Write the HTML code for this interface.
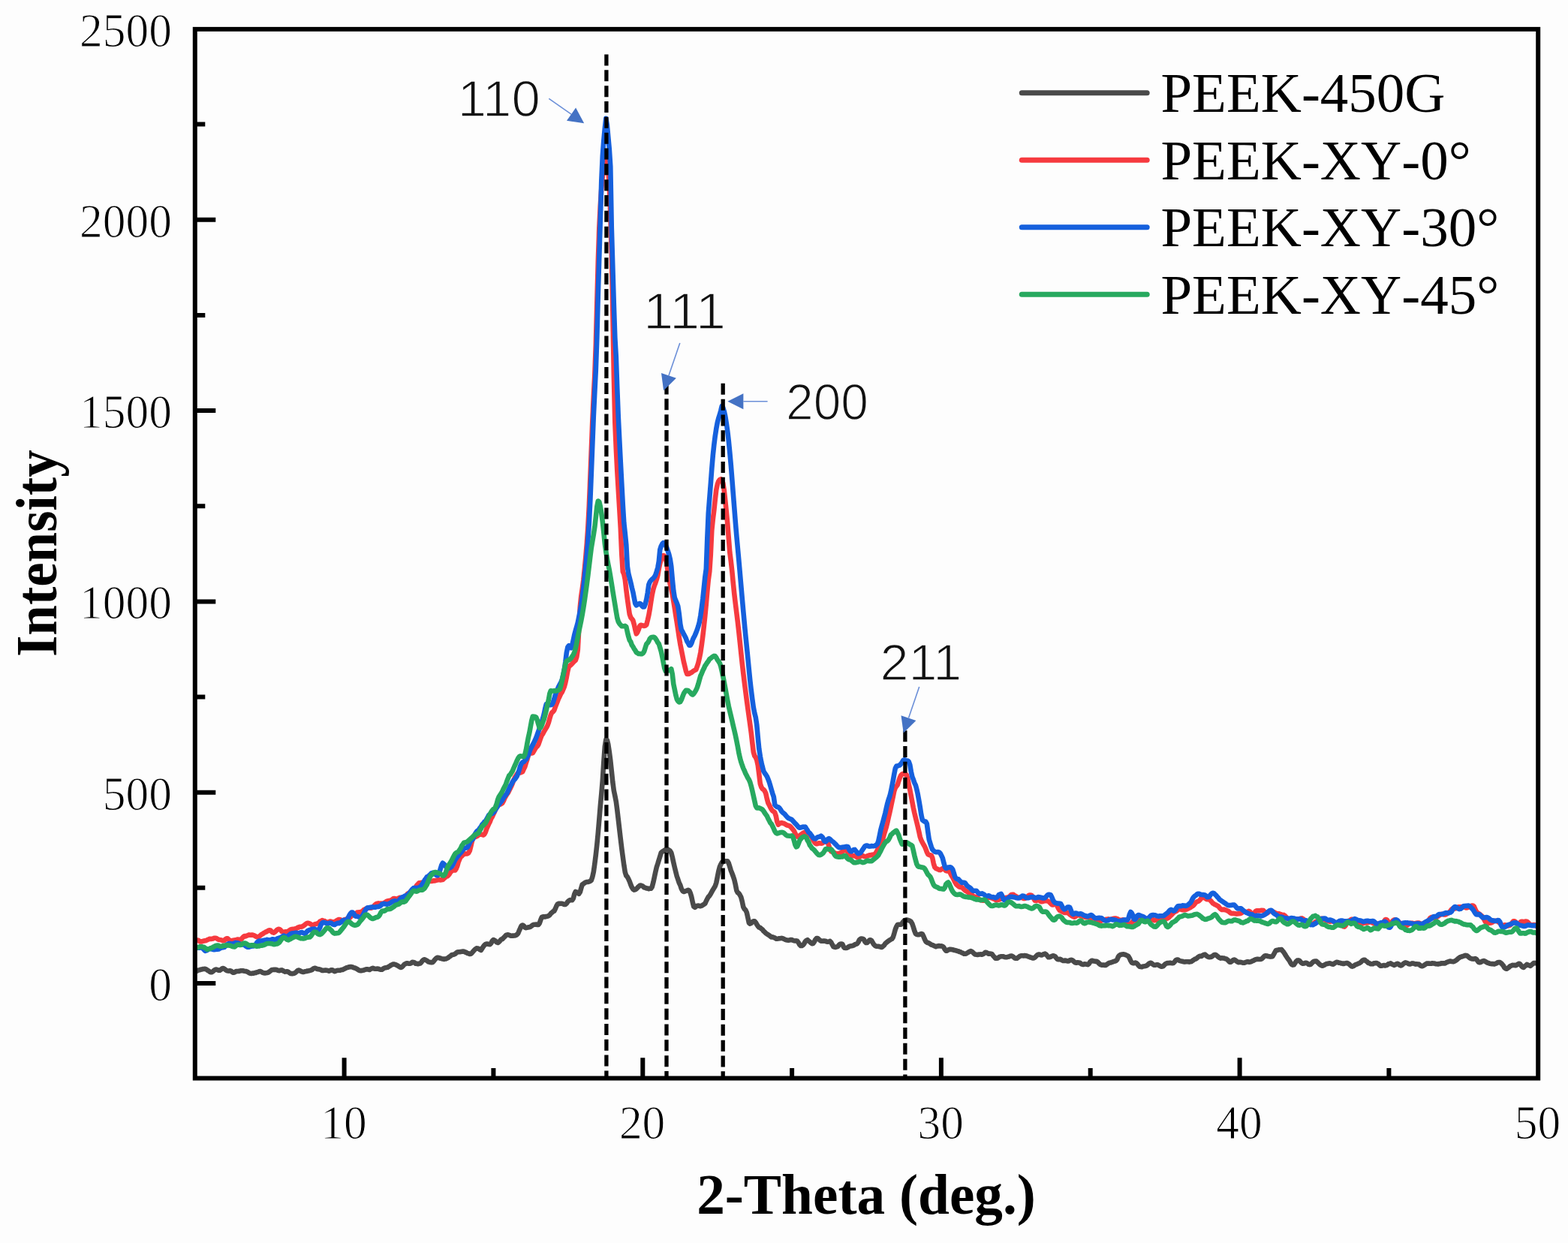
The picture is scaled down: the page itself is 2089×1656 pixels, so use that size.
<!DOCTYPE html>
<html lang="en"><head><meta charset="utf-8"><title>XRD patterns of PEEK</title>
<style>
html,body{margin:0;padding:0;background:#fdfdfd;}
body{width:2089px;height:1656px;overflow:hidden;}
svg{display:block;filter:blur(0.55px);}
.tk{font-family:"Liberation Serif",serif;font-size:64px;fill:#000;stroke:#fdfdfd;stroke-width:1.1px;paint-order:fill stroke;}
.lg{font-family:"Liberation Serif",serif;font-size:75px;fill:#000;font-kerning:none;}
.ax{font-family:"Liberation Serif",serif;font-weight:bold;font-size:75.3px;fill:#000;}
.ay{font-family:"Liberation Serif",serif;font-weight:bold;font-size:78px;fill:#000;}
.an{font-family:"Liberation Sans",sans-serif;font-size:69px;fill:#111;stroke:#fdfdfd;stroke-width:1.6px;paint-order:fill stroke;}
.cv{fill:none;stroke-width:6.6px;stroke-linejoin:round;stroke-linecap:round;}
.ds{stroke:#000;stroke-width:5.3px;stroke-dasharray:15 5.83;fill:none;}
.ar{stroke:#6b8fd8;stroke-width:1.6px;fill:none;}
.ah{fill:#4472C4;}
</style></head><body>
<svg width="2089" height="1656" viewBox="0 0 2089 1656">
<rect x="0" y="0" width="2089" height="1656" fill="#fdfdfd"/>
<clipPath id="cp"><rect x="259.8" y="38.9" width="1789.3999999999999" height="1397.6"/></clipPath>
<g clip-path="url(#cp)">
<path class="cv" stroke="#4a4a4a" d="M259.8,1294.8 L261.3,1294.2 L262.8,1293.4 L264.3,1292.5 L265.8,1292.2 L267.3,1291.8 L268.8,1291.4 L270.3,1291.1 L271.8,1290.9 L273.3,1290.9 L274.8,1291.4 L276.3,1292.5 L277.8,1293.3 L279.3,1294.6 L280.8,1295.2 L282.3,1295.2 L283.8,1294.1 L285.3,1292.8 L286.8,1291.8 L288.3,1291.6 L289.8,1292.1 L291.3,1292.8 L292.8,1292.8 L294.3,1291.8 L295.8,1290.4 L297.3,1290.0 L298.8,1290.7 L300.3,1291.8 L301.8,1293.0 L303.3,1293.4 L304.8,1293.6 L306.3,1293.2 L307.8,1293.6 L309.3,1294.9 L310.8,1295.8 L312.3,1295.5 L313.8,1294.5 L315.3,1294.0 L316.8,1294.0 L318.3,1293.9 L319.8,1293.6 L321.3,1293.3 L322.8,1293.3 L324.3,1293.4 L325.8,1293.7 L327.3,1293.9 L328.8,1294.4 L330.3,1295.1 L331.8,1296.2 L333.3,1296.8 L334.8,1297.0 L336.3,1296.6 L337.8,1296.6 L339.3,1296.1 L340.8,1296.0 L342.3,1295.2 L343.8,1295.0 L345.3,1294.3 L346.8,1294.1 L348.3,1294.7 L349.8,1295.7 L351.3,1296.3 L352.8,1296.4 L354.3,1296.2 L355.8,1296.0 L357.3,1295.6 L358.8,1294.7 L360.3,1293.5 L361.8,1292.3 L363.3,1292.0 L364.8,1291.9 L366.3,1291.9 L367.8,1291.8 L369.3,1292.4 L370.8,1293.0 L372.3,1293.1 L373.8,1292.6 L375.3,1292.4 L376.8,1293.0 L378.3,1294.0 L379.8,1294.6 L381.3,1294.4 L382.8,1294.3 L384.3,1295.0 L385.8,1296.2 L387.3,1297.0 L388.8,1297.1 L390.3,1297.1 L391.8,1296.8 L393.3,1296.1 L394.8,1294.8 L396.3,1293.1 L397.8,1292.6 L399.3,1292.9 L400.8,1294.0 L402.3,1294.6 L403.8,1294.9 L405.3,1294.7 L406.8,1294.2 L408.3,1294.0 L409.8,1293.5 L411.3,1293.4 L412.8,1292.9 L414.3,1292.6 L415.8,1291.9 L417.3,1290.6 L418.8,1289.9 L420.3,1289.9 L421.8,1290.7 L423.3,1291.1 L424.8,1291.2 L426.3,1291.6 L427.8,1292.3 L429.3,1293.0 L430.8,1292.9 L432.3,1292.8 L433.8,1292.5 L435.3,1292.7 L436.8,1293.1 L438.3,1293.6 L439.8,1293.1 L441.3,1292.2 L442.8,1292.3 L444.3,1293.3 L445.8,1294.2 L447.3,1293.7 L448.8,1292.9 L450.3,1292.7 L451.8,1292.7 L453.3,1292.6 L454.8,1292.1 L456.3,1291.9 L457.8,1291.2 L459.3,1290.5 L460.8,1289.8 L462.3,1289.1 L463.8,1288.7 L465.3,1288.3 L466.8,1288.1 L468.3,1288.1 L469.8,1288.5 L471.3,1289.2 L472.8,1289.5 L474.3,1290.3 L475.8,1291.0 L477.3,1292.1 L478.8,1293.0 L480.3,1293.1 L481.8,1293.1 L483.3,1292.7 L484.8,1292.5 L486.3,1291.8 L487.8,1291.3 L489.3,1291.3 L490.8,1291.6 L492.3,1292.0 L493.8,1291.0 L495.3,1290.4 L496.8,1289.8 L498.3,1290.4 L499.8,1290.7 L501.3,1290.7 L502.8,1290.5 L504.3,1290.7 L505.8,1291.4 L507.3,1291.8 L508.8,1291.7 L510.3,1290.7 L511.8,1289.8 L513.3,1289.2 L514.8,1289.1 L516.3,1288.8 L517.8,1287.9 L519.3,1287.0 L520.8,1285.9 L522.3,1285.3 L523.8,1284.6 L525.3,1284.6 L526.8,1285.1 L528.3,1285.8 L529.8,1286.5 L531.3,1287.5 L532.8,1288.4 L534.3,1289.0 L535.8,1288.1 L537.3,1286.5 L538.8,1284.7 L540.3,1284.0 L541.8,1283.3 L543.3,1283.4 L544.8,1283.7 L546.3,1283.7 L547.8,1283.1 L549.3,1281.9 L550.8,1282.0 L552.3,1282.4 L553.8,1283.8 L555.3,1283.8 L556.8,1284.2 L558.3,1283.8 L559.8,1283.5 L561.3,1282.1 L562.8,1279.8 L564.3,1278.7 L565.8,1278.3 L567.3,1279.2 L568.8,1279.8 L570.3,1281.2 L571.8,1281.6 L573.3,1282.1 L574.8,1282.3 L576.3,1282.0 L577.8,1280.6 L579.3,1278.5 L580.8,1276.9 L582.3,1275.8 L583.8,1275.9 L585.3,1276.3 L586.8,1276.7 L588.3,1277.2 L589.8,1277.5 L591.3,1277.9 L592.8,1277.6 L594.3,1277.4 L595.8,1276.6 L597.3,1275.8 L598.8,1274.5 L600.3,1273.6 L601.8,1272.3 L603.3,1271.9 L604.8,1271.6 L606.3,1270.8 L607.8,1269.6 L609.3,1268.6 L610.8,1268.3 L612.3,1268.2 L613.8,1267.9 L615.3,1267.7 L616.8,1267.5 L618.3,1267.8 L619.8,1268.5 L621.3,1269.0 L622.8,1270.0 L624.3,1270.3 L625.8,1271.0 L627.3,1270.7 L628.8,1269.4 L630.3,1267.6 L631.8,1265.8 L633.3,1264.4 L634.8,1263.4 L636.3,1263.5 L637.8,1263.9 L639.3,1265.1 L640.8,1265.9 L642.3,1263.6 L643.8,1261.2 L645.3,1259.2 L646.8,1257.9 L648.3,1257.6 L649.8,1257.6 L651.3,1258.0 L652.8,1258.1 L654.3,1256.7 L655.8,1253.5 L657.3,1252.0 L658.8,1252.7 L660.3,1253.9 L661.8,1255.4 L663.3,1255.9 L664.8,1254.9 L666.3,1253.2 L667.8,1251.5 L669.3,1251.3 L670.8,1249.4 L672.3,1248.1 L673.8,1246.2 L675.3,1245.4 L676.8,1245.2 L678.3,1245.8 L679.8,1246.4 L681.3,1246.7 L682.8,1246.6 L684.3,1246.6 L685.8,1246.4 L687.3,1246.1 L688.8,1245.0 L690.3,1243.4 L691.8,1239.6 L693.3,1236.3 L694.8,1233.2 L696.3,1232.5 L697.8,1233.5 L699.3,1235.6 L700.8,1236.1 L702.3,1235.8 L703.8,1235.4 L705.3,1235.3 L706.8,1234.7 L708.3,1233.5 L709.8,1232.4 L711.3,1231.8 L712.8,1231.7 L714.3,1231.6 L715.8,1231.9 L717.3,1231.9 L718.8,1229.9 L720.3,1225.6 L721.8,1221.9 L723.3,1221.4 L724.8,1221.4 L726.3,1221.5 L727.8,1220.9 L729.3,1220.7 L730.8,1220.1 L732.3,1219.2 L733.8,1217.1 L735.3,1215.8 L736.8,1214.4 L738.3,1213.8 L739.8,1210.7 L741.3,1207.2 L742.8,1204.5 L744.3,1203.9 L745.8,1203.9 L747.3,1203.8 L748.8,1203.8 L750.3,1204.3 L751.8,1205.0 L753.3,1204.9 L754.8,1203.7 L756.3,1201.4 L757.8,1200.0 L759.3,1199.1 L760.8,1199.2 L762.3,1199.3 L763.8,1197.0 L765.3,1191.2 L766.8,1188.0 L768.3,1188.6 L769.8,1189.3 L771.3,1190.8 L772.8,1188.5 L774.3,1183.2 L775.8,1178.3 L777.3,1177.5 L778.8,1176.3 L780.3,1175.4 L781.8,1175.1 L783.3,1174.9 L784.8,1174.6 L786.3,1173.9 L787.8,1172.8 L789.3,1168.2 L790.8,1161.5 L792.3,1151.0 L793.8,1139.0 L795.3,1125.5 L796.8,1109.8 L798.3,1092.0 L799.8,1073.7 L801.3,1057.6 L802.8,1039.8 L804.3,1015.7 L805.8,994.9 L807.3,985.6 L808.8,985.9 L810.3,991.9 L811.8,1001.8 L813.3,1013.3 L814.8,1027.4 L816.3,1041.8 L817.8,1053.1 L819.3,1060.2 L820.8,1067.9 L822.3,1079.2 L823.8,1092.0 L825.3,1105.0 L826.8,1117.9 L828.3,1130.4 L829.8,1141.6 L831.3,1152.6 L832.8,1162.0 L834.3,1166.7 L835.8,1168.2 L837.3,1171.1 L838.8,1174.4 L840.3,1178.6 L841.8,1182.1 L843.3,1184.5 L844.8,1185.6 L846.3,1185.3 L847.8,1184.3 L849.3,1182.7 L850.8,1181.2 L852.3,1179.8 L853.8,1179.6 L855.3,1180.1 L856.8,1181.1 L858.3,1182.4 L859.8,1182.8 L861.3,1183.4 L862.8,1183.6 L864.3,1184.1 L865.8,1183.5 L867.3,1183.8 L868.8,1181.4 L870.3,1175.7 L871.8,1168.8 L873.3,1161.7 L874.8,1155.3 L876.3,1150.8 L877.8,1145.8 L879.3,1141.0 L880.8,1136.0 L882.3,1134.7 L883.8,1133.8 L885.3,1132.7 L886.8,1132.0 L888.3,1131.7 L889.8,1131.8 L891.3,1132.5 L892.8,1133.7 L894.3,1136.2 L895.8,1142.0 L897.3,1149.0 L898.8,1155.4 L900.3,1161.5 L901.8,1167.5 L903.3,1171.7 L904.8,1176.3 L906.3,1179.3 L907.8,1184.0 L909.3,1186.8 L910.8,1188.0 L912.3,1187.5 L913.8,1187.1 L915.3,1186.4 L916.8,1185.9 L918.3,1186.5 L919.8,1189.8 L921.3,1195.0 L922.8,1202.1 L924.3,1207.8 L925.8,1208.8 L927.3,1207.6 L928.8,1206.7 L930.3,1206.6 L931.8,1206.9 L933.3,1207.2 L934.8,1206.7 L936.3,1205.7 L937.8,1204.8 L939.3,1203.8 L940.8,1200.5 L942.3,1197.6 L943.8,1194.8 L945.3,1193.3 L946.8,1190.9 L948.3,1188.2 L949.8,1185.4 L951.3,1183.0 L952.8,1180.6 L954.3,1176.0 L955.8,1168.5 L957.3,1160.8 L958.8,1155.1 L960.3,1151.6 L961.8,1149.0 L963.3,1147.6 L964.8,1147.6 L966.3,1147.2 L967.8,1147.3 L969.3,1147.4 L970.8,1150.0 L972.3,1154.7 L973.8,1159.8 L975.3,1163.5 L976.8,1167.5 L978.3,1172.1 L979.8,1178.5 L981.3,1186.2 L982.8,1189.2 L984.3,1190.1 L985.8,1192.4 L987.3,1195.3 L988.8,1201.1 L990.3,1208.4 L991.8,1211.0 L993.3,1212.4 L994.8,1215.6 L996.3,1222.2 L997.8,1229.4 L999.3,1230.7 L1000.8,1229.9 L1002.3,1228.2 L1003.8,1227.4 L1005.3,1227.3 L1006.8,1228.9 L1008.3,1231.6 L1009.8,1233.8 L1011.3,1235.6 L1012.8,1235.9 L1014.3,1237.3 L1015.8,1238.4 L1017.3,1240.5 L1018.8,1241.7 L1020.3,1243.3 L1021.8,1244.3 L1023.3,1245.2 L1024.8,1246.2 L1026.3,1247.4 L1027.8,1248.4 L1029.3,1248.4 L1030.8,1248.9 L1032.3,1249.6 L1033.8,1250.6 L1035.3,1250.7 L1036.8,1250.5 L1038.3,1250.2 L1039.8,1250.1 L1041.3,1249.9 L1042.8,1250.3 L1044.3,1250.9 L1045.8,1251.7 L1047.3,1252.3 L1048.8,1252.6 L1050.3,1252.8 L1051.8,1252.4 L1053.3,1252.1 L1054.8,1252.0 L1056.3,1252.7 L1057.8,1253.3 L1059.3,1253.5 L1060.8,1253.4 L1062.3,1253.8 L1063.8,1255.9 L1065.3,1258.6 L1066.8,1260.0 L1068.3,1260.0 L1069.8,1259.0 L1071.3,1257.3 L1072.8,1254.3 L1074.3,1252.9 L1075.8,1252.2 L1077.3,1253.6 L1078.8,1254.7 L1080.3,1256.1 L1081.8,1257.2 L1083.3,1257.0 L1084.8,1254.8 L1086.3,1251.8 L1087.8,1250.0 L1089.3,1250.0 L1090.8,1251.3 L1092.3,1252.7 L1093.8,1253.6 L1095.3,1253.7 L1096.8,1253.6 L1098.3,1253.6 L1099.8,1253.7 L1101.3,1254.5 L1102.8,1254.7 L1104.3,1254.5 L1105.8,1253.9 L1107.3,1255.5 L1108.8,1258.4 L1110.3,1261.1 L1111.8,1261.7 L1113.3,1261.9 L1114.8,1261.4 L1116.3,1261.0 L1117.8,1258.8 L1119.3,1257.7 L1120.8,1257.5 L1122.3,1257.7 L1123.8,1261.3 L1125.3,1262.8 L1126.8,1263.0 L1128.3,1262.7 L1129.8,1262.0 L1131.3,1260.9 L1132.8,1260.5 L1134.3,1260.2 L1135.8,1260.0 L1137.3,1259.4 L1138.8,1258.4 L1140.3,1257.8 L1141.8,1257.3 L1143.3,1255.5 L1144.8,1252.3 L1146.3,1251.0 L1147.8,1250.5 L1149.3,1250.7 L1150.8,1251.6 L1152.3,1254.6 L1153.8,1256.0 L1155.3,1256.0 L1156.8,1254.4 L1158.3,1252.6 L1159.8,1252.3 L1161.3,1253.3 L1162.8,1256.0 L1164.3,1258.4 L1165.8,1259.8 L1167.3,1260.7 L1168.8,1260.8 L1170.3,1260.8 L1171.8,1261.2 L1173.3,1261.7 L1174.8,1262.0 L1176.3,1260.7 L1177.8,1259.5 L1179.3,1257.2 L1180.8,1255.8 L1182.3,1254.6 L1183.8,1253.5 L1185.3,1252.5 L1186.8,1251.7 L1188.3,1250.9 L1189.8,1248.6 L1191.3,1243.7 L1192.8,1238.3 L1194.3,1234.5 L1195.8,1232.1 L1197.3,1231.8 L1198.8,1231.8 L1200.3,1231.8 L1201.8,1230.1 L1203.3,1228.1 L1204.8,1226.3 L1206.3,1225.7 L1207.8,1225.4 L1209.3,1225.7 L1210.8,1226.3 L1212.3,1226.9 L1213.8,1228.0 L1215.3,1230.7 L1216.8,1235.0 L1218.3,1240.0 L1219.8,1243.9 L1221.3,1244.8 L1222.8,1245.2 L1224.3,1245.2 L1225.8,1244.6 L1227.3,1244.0 L1228.8,1244.4 L1230.3,1247.2 L1231.8,1251.0 L1233.3,1254.2 L1234.8,1255.5 L1236.3,1256.0 L1237.8,1256.6 L1239.3,1257.7 L1240.8,1258.6 L1242.3,1259.1 L1243.8,1259.8 L1245.3,1260.5 L1246.8,1261.1 L1248.3,1260.5 L1249.8,1260.4 L1251.3,1260.1 L1252.8,1260.5 L1254.3,1260.4 L1255.8,1260.9 L1257.3,1262.1 L1258.8,1264.8 L1260.3,1266.6 L1261.8,1266.6 L1263.3,1265.6 L1264.8,1264.9 L1266.3,1264.8 L1267.8,1265.0 L1269.3,1265.3 L1270.8,1265.7 L1272.3,1266.1 L1273.8,1266.4 L1275.3,1266.9 L1276.8,1267.2 L1278.3,1268.1 L1279.8,1268.3 L1281.3,1269.4 L1282.8,1269.8 L1284.3,1270.8 L1285.8,1270.7 L1287.3,1270.4 L1288.8,1269.5 L1290.3,1268.6 L1291.8,1267.7 L1293.3,1267.1 L1294.8,1267.7 L1296.3,1269.0 L1297.8,1270.5 L1299.3,1271.6 L1300.8,1271.8 L1302.3,1272.0 L1303.8,1271.6 L1305.3,1271.5 L1306.8,1271.4 L1308.3,1271.7 L1309.8,1271.2 L1311.3,1270.1 L1312.8,1268.7 L1314.3,1268.9 L1315.8,1269.9 L1317.3,1270.8 L1318.8,1270.5 L1320.3,1270.8 L1321.8,1271.2 L1323.3,1273.5 L1324.8,1275.0 L1326.3,1276.7 L1327.8,1276.8 L1329.3,1276.5 L1330.8,1275.3 L1332.3,1274.6 L1333.8,1274.2 L1335.3,1274.3 L1336.8,1274.4 L1338.3,1275.0 L1339.8,1275.2 L1341.3,1275.3 L1342.8,1274.7 L1344.3,1274.4 L1345.8,1273.7 L1347.3,1273.5 L1348.8,1273.9 L1350.3,1274.9 L1351.8,1276.3 L1353.3,1276.8 L1354.8,1276.8 L1356.3,1275.7 L1357.8,1274.6 L1359.3,1273.6 L1360.8,1273.2 L1362.3,1273.2 L1363.8,1273.4 L1365.3,1273.1 L1366.8,1273.4 L1368.3,1273.5 L1369.8,1274.4 L1371.3,1274.8 L1372.8,1275.5 L1374.3,1275.8 L1375.8,1276.5 L1377.3,1276.4 L1378.8,1275.6 L1380.3,1274.0 L1381.8,1272.4 L1383.3,1271.6 L1384.8,1271.6 L1386.3,1272.3 L1387.8,1272.4 L1389.3,1271.8 L1390.8,1271.1 L1392.3,1270.6 L1393.8,1271.7 L1395.3,1273.5 L1396.8,1275.3 L1398.3,1275.3 L1399.8,1274.7 L1401.3,1273.8 L1402.8,1273.3 L1404.3,1273.5 L1405.8,1274.4 L1407.3,1276.3 L1408.8,1277.8 L1410.3,1278.3 L1411.8,1277.8 L1413.3,1278.2 L1414.8,1279.3 L1416.3,1279.9 L1417.8,1280.0 L1419.3,1279.5 L1420.8,1280.1 L1422.3,1280.4 L1423.8,1280.5 L1425.3,1279.2 L1426.8,1278.9 L1428.3,1279.0 L1429.8,1280.2 L1431.3,1281.7 L1432.8,1282.4 L1434.3,1282.7 L1435.8,1282.2 L1437.3,1282.4 L1438.8,1282.7 L1440.3,1284.1 L1441.8,1284.7 L1443.3,1285.0 L1444.8,1284.3 L1446.3,1284.5 L1447.8,1284.8 L1449.3,1285.1 L1450.8,1283.9 L1452.3,1281.5 L1453.8,1280.2 L1455.3,1279.7 L1456.8,1280.4 L1458.3,1280.6 L1459.8,1280.9 L1461.3,1280.9 L1462.8,1282.0 L1464.3,1283.7 L1465.8,1284.9 L1467.3,1285.6 L1468.8,1285.6 L1470.3,1285.6 L1471.8,1285.9 L1473.3,1285.9 L1474.8,1284.7 L1476.3,1283.7 L1477.8,1282.8 L1479.3,1282.6 L1480.8,1282.0 L1482.3,1281.6 L1483.8,1280.9 L1485.3,1280.6 L1486.8,1280.0 L1488.3,1278.4 L1489.8,1274.8 L1491.3,1272.8 L1492.8,1272.0 L1494.3,1271.6 L1495.8,1271.4 L1497.3,1271.4 L1498.8,1271.7 L1500.3,1272.4 L1501.8,1273.2 L1503.3,1274.0 L1504.8,1276.4 L1506.3,1279.8 L1507.8,1282.4 L1509.3,1283.1 L1510.8,1283.2 L1512.3,1282.6 L1513.8,1282.9 L1515.3,1284.2 L1516.8,1286.2 L1518.3,1287.8 L1519.8,1288.0 L1521.3,1288.1 L1522.8,1287.5 L1524.3,1287.3 L1525.8,1287.0 L1527.3,1286.6 L1528.8,1285.7 L1530.3,1284.1 L1531.8,1283.2 L1533.3,1282.8 L1534.8,1283.8 L1536.3,1285.0 L1537.8,1285.8 L1539.3,1285.8 L1540.8,1285.2 L1542.3,1285.3 L1543.8,1286.0 L1545.3,1286.9 L1546.8,1287.7 L1548.3,1287.6 L1549.8,1287.3 L1551.3,1285.4 L1552.8,1284.1 L1554.3,1283.3 L1555.8,1283.1 L1557.3,1283.0 L1558.8,1282.7 L1560.3,1283.0 L1561.8,1283.2 L1563.3,1283.0 L1564.8,1281.4 L1566.3,1279.4 L1567.8,1278.5 L1569.3,1278.6 L1570.8,1279.6 L1572.3,1280.1 L1573.8,1280.5 L1575.3,1280.8 L1576.8,1281.2 L1578.3,1281.5 L1579.8,1281.2 L1581.3,1281.3 L1582.8,1281.3 L1584.3,1281.6 L1585.8,1281.3 L1587.3,1281.0 L1588.8,1279.8 L1590.3,1278.9 L1591.8,1277.8 L1593.3,1277.5 L1594.8,1276.3 L1596.3,1275.0 L1597.8,1274.1 L1599.3,1273.8 L1600.8,1273.9 L1602.3,1272.7 L1603.8,1272.0 L1605.3,1271.6 L1606.8,1272.9 L1608.3,1274.1 L1609.8,1275.0 L1611.3,1275.1 L1612.8,1275.0 L1614.3,1274.5 L1615.8,1273.5 L1617.3,1272.2 L1618.8,1271.9 L1620.3,1272.4 L1621.8,1273.7 L1623.3,1275.2 L1624.8,1276.0 L1626.3,1276.6 L1627.8,1276.3 L1629.3,1276.5 L1630.8,1276.6 L1632.3,1277.2 L1633.8,1277.4 L1635.3,1278.7 L1636.8,1280.2 L1638.3,1281.8 L1639.8,1281.7 L1641.3,1280.5 L1642.8,1279.1 L1644.3,1278.5 L1645.8,1279.2 L1647.3,1280.6 L1648.8,1281.6 L1650.3,1282.1 L1651.8,1281.8 L1653.3,1282.0 L1654.8,1282.4 L1656.3,1282.8 L1657.8,1282.8 L1659.3,1282.1 L1660.8,1281.5 L1662.3,1281.2 L1663.8,1281.7 L1665.3,1281.6 L1666.8,1281.3 L1668.3,1280.3 L1669.8,1279.8 L1671.3,1278.9 L1672.8,1278.2 L1674.3,1277.9 L1675.8,1277.9 L1677.3,1278.0 L1678.8,1278.0 L1680.3,1277.7 L1681.8,1276.7 L1683.3,1275.2 L1684.8,1273.7 L1686.3,1273.2 L1687.8,1273.5 L1689.3,1274.0 L1690.8,1274.3 L1692.3,1274.6 L1693.8,1274.4 L1695.3,1274.2 L1696.8,1271.8 L1698.3,1269.0 L1699.8,1266.3 L1701.3,1265.7 L1702.8,1265.6 L1704.3,1265.3 L1705.8,1265.3 L1707.3,1265.0 L1708.8,1266.9 L1710.3,1268.7 L1711.8,1271.0 L1713.3,1273.5 L1714.8,1275.8 L1716.3,1277.9 L1717.8,1279.8 L1719.3,1282.6 L1720.8,1284.8 L1722.3,1285.6 L1723.8,1285.3 L1725.3,1283.1 L1726.8,1281.0 L1728.3,1279.6 L1729.8,1279.4 L1731.3,1279.9 L1732.8,1281.7 L1734.3,1283.0 L1735.8,1283.8 L1737.3,1283.6 L1738.8,1282.8 L1740.3,1282.7 L1741.8,1283.4 L1743.3,1284.8 L1744.8,1285.1 L1746.3,1284.7 L1747.8,1283.1 L1749.3,1281.6 L1750.8,1280.7 L1752.3,1280.5 L1753.8,1280.6 L1755.3,1282.0 L1756.8,1283.4 L1758.3,1285.0 L1759.8,1285.8 L1761.3,1286.7 L1762.8,1286.4 L1764.3,1285.8 L1765.8,1284.7 L1767.3,1284.1 L1768.8,1283.9 L1770.3,1283.5 L1771.8,1283.4 L1773.3,1283.9 L1774.8,1284.5 L1776.3,1284.6 L1777.8,1283.5 L1779.3,1282.5 L1780.8,1281.9 L1782.3,1282.0 L1783.8,1282.7 L1785.3,1282.8 L1786.8,1283.4 L1788.3,1283.5 L1789.8,1284.0 L1791.3,1283.5 L1792.8,1283.3 L1794.3,1283.0 L1795.8,1283.5 L1797.3,1284.4 L1798.8,1285.8 L1800.3,1287.2 L1801.8,1287.6 L1803.3,1286.9 L1804.8,1285.9 L1806.3,1285.0 L1807.8,1284.6 L1809.3,1283.8 L1810.8,1283.4 L1812.3,1282.3 L1813.8,1281.1 L1815.3,1279.5 L1816.8,1278.9 L1818.3,1278.9 L1819.8,1280.4 L1821.3,1281.2 L1822.8,1283.0 L1824.3,1283.1 L1825.8,1284.2 L1827.3,1284.2 L1828.8,1284.3 L1830.3,1283.4 L1831.8,1283.3 L1833.3,1283.0 L1834.8,1283.3 L1836.3,1284.1 L1837.8,1285.7 L1839.3,1286.7 L1840.8,1286.8 L1842.3,1286.2 L1843.8,1286.1 L1845.3,1286.4 L1846.8,1286.1 L1848.3,1285.6 L1849.8,1284.3 L1851.3,1283.9 L1852.8,1283.4 L1854.3,1284.4 L1855.8,1285.1 L1857.3,1285.9 L1858.8,1285.3 L1860.3,1284.4 L1861.8,1283.8 L1863.3,1284.5 L1864.8,1285.9 L1866.3,1286.4 L1867.8,1285.9 L1869.3,1284.2 L1870.8,1283.2 L1872.3,1282.4 L1873.8,1282.7 L1875.3,1283.3 L1876.8,1284.3 L1878.3,1284.5 L1879.8,1284.1 L1881.3,1283.4 L1882.8,1283.6 L1884.3,1283.9 L1885.8,1284.6 L1887.3,1284.3 L1888.8,1284.5 L1890.3,1284.6 L1891.8,1285.9 L1893.3,1286.8 L1894.8,1287.2 L1896.3,1286.7 L1897.8,1285.6 L1899.3,1284.7 L1900.8,1283.6 L1902.3,1283.5 L1903.8,1283.6 L1905.3,1283.7 L1906.8,1283.7 L1908.3,1283.3 L1909.8,1283.5 L1911.3,1283.6 L1912.8,1284.2 L1914.3,1284.2 L1915.8,1284.5 L1917.3,1284.0 L1918.8,1284.0 L1920.3,1283.2 L1921.8,1283.4 L1923.3,1283.4 L1924.8,1283.5 L1926.3,1282.8 L1927.8,1281.8 L1929.3,1281.3 L1930.8,1280.8 L1932.3,1280.6 L1933.8,1280.9 L1935.3,1281.1 L1936.8,1281.2 L1938.3,1280.4 L1939.8,1279.5 L1941.3,1278.3 L1942.8,1276.9 L1944.3,1275.8 L1945.8,1274.9 L1947.3,1274.6 L1948.8,1274.0 L1950.3,1273.6 L1951.8,1272.9 L1953.3,1273.0 L1954.8,1273.5 L1956.3,1274.8 L1957.8,1276.1 L1959.3,1276.9 L1960.8,1277.4 L1962.3,1277.6 L1963.8,1277.5 L1965.3,1277.1 L1966.8,1277.7 L1968.3,1279.8 L1969.8,1281.8 L1971.3,1282.2 L1972.8,1281.8 L1974.3,1280.9 L1975.8,1280.3 L1977.3,1280.1 L1978.8,1280.9 L1980.3,1281.8 L1981.8,1282.8 L1983.3,1283.1 L1984.8,1283.7 L1986.3,1283.9 L1987.8,1284.3 L1989.3,1284.1 L1990.8,1284.5 L1992.3,1283.8 L1993.8,1283.3 L1995.3,1282.2 L1996.8,1282.0 L1998.3,1282.1 L1999.8,1283.2 L2001.3,1284.7 L2002.8,1286.4 L2004.3,1289.2 L2005.8,1290.3 L2007.3,1290.8 L2008.8,1289.8 L2010.3,1288.8 L2011.8,1287.1 L2013.3,1286.6 L2014.8,1285.8 L2016.3,1286.0 L2017.8,1285.9 L2019.3,1286.2 L2020.8,1285.5 L2022.3,1284.5 L2023.8,1283.8 L2025.3,1284.5 L2026.8,1286.7 L2028.3,1288.4 L2029.8,1288.9 L2031.3,1287.3 L2032.8,1286.4 L2034.3,1284.9 L2035.8,1285.7 L2037.3,1286.1 L2038.8,1286.9 L2040.3,1285.7 L2041.8,1284.3 L2043.3,1283.1 L2044.8,1282.9 L2046.3,1283.3 L2047.8,1283.5"/>
<path class="cv" stroke="#F63A3F" d="M259.8,1254.3 L261.3,1252.9 L262.8,1252.5 L264.3,1252.7 L265.8,1254.0 L267.3,1254.5 L268.8,1254.4 L270.3,1253.9 L271.8,1253.5 L273.3,1253.2 L274.8,1252.9 L276.3,1252.1 L277.8,1251.5 L279.3,1250.8 L280.8,1251.0 L282.3,1250.7 L283.8,1250.5 L285.3,1249.8 L286.8,1249.8 L288.3,1250.0 L289.8,1251.0 L291.3,1251.7 L292.8,1252.0 L294.3,1252.2 L295.8,1252.8 L297.3,1253.3 L298.8,1253.0 L300.3,1251.3 L301.8,1250.4 L303.3,1250.4 L304.8,1251.9 L306.3,1252.8 L307.8,1253.4 L309.3,1253.2 L310.8,1252.8 L312.3,1252.6 L313.8,1252.2 L315.3,1252.0 L316.8,1251.5 L318.3,1251.8 L319.8,1251.8 L321.3,1251.5 L322.8,1249.6 L324.3,1248.1 L325.8,1247.1 L327.3,1247.4 L328.8,1246.6 L330.3,1246.1 L331.8,1245.4 L333.3,1245.7 L334.8,1245.6 L336.3,1245.6 L337.8,1245.9 L339.3,1246.7 L340.8,1247.6 L342.3,1248.3 L343.8,1248.4 L345.3,1247.5 L346.8,1246.4 L348.3,1245.0 L349.8,1244.3 L351.3,1243.1 L352.8,1242.3 L354.3,1241.5 L355.8,1241.0 L357.3,1239.8 L358.8,1239.2 L360.3,1239.4 L361.8,1241.2 L363.3,1242.2 L364.8,1242.7 L366.3,1241.6 L367.8,1240.1 L369.3,1238.6 L370.8,1237.8 L372.3,1238.0 L373.8,1239.0 L375.3,1240.8 L376.8,1241.7 L378.3,1241.8 L379.8,1241.4 L381.3,1241.3 L382.8,1241.1 L384.3,1240.4 L385.8,1239.3 L387.3,1238.4 L388.8,1238.0 L390.3,1237.9 L391.8,1237.9 L393.3,1237.3 L394.8,1237.0 L396.3,1236.0 L397.8,1235.5 L399.3,1234.8 L400.8,1234.7 L402.3,1234.4 L403.8,1233.7 L405.3,1232.7 L406.8,1231.4 L408.3,1230.3 L409.8,1229.7 L411.3,1230.0 L412.8,1230.6 L414.3,1231.6 L415.8,1232.1 L417.3,1232.2 L418.8,1231.7 L420.3,1231.0 L421.8,1230.9 L423.3,1230.1 L424.8,1229.6 L426.3,1227.6 L427.8,1227.0 L429.3,1226.1 L430.8,1226.6 L432.3,1227.0 L433.8,1227.8 L435.3,1228.6 L436.8,1228.7 L438.3,1228.3 L439.8,1227.6 L441.3,1227.8 L442.8,1228.3 L444.3,1228.6 L445.8,1228.2 L447.3,1227.3 L448.8,1226.2 L450.3,1225.5 L451.8,1225.0 L453.3,1225.2 L454.8,1225.9 L456.3,1226.2 L457.8,1226.1 L459.3,1225.0 L460.8,1224.8 L462.3,1224.4 L463.8,1224.7 L465.3,1223.3 L466.8,1221.9 L468.3,1220.0 L469.8,1219.1 L471.3,1218.6 L472.8,1217.7 L474.3,1217.0 L475.8,1215.6 L477.3,1215.6 L478.8,1215.2 L480.3,1215.6 L481.8,1214.4 L483.3,1213.7 L484.8,1212.0 L486.3,1211.4 L487.8,1210.4 L489.3,1210.1 L490.8,1209.8 L492.3,1209.7 L493.8,1209.7 L495.3,1209.4 L496.8,1208.5 L498.3,1206.9 L499.8,1205.4 L501.3,1204.2 L502.8,1203.8 L504.3,1203.4 L505.8,1203.7 L507.3,1203.6 L508.8,1203.8 L510.3,1203.6 L511.8,1202.9 L513.3,1201.9 L514.8,1200.9 L516.3,1200.4 L517.8,1200.1 L519.3,1199.9 L520.8,1199.4 L522.3,1198.5 L523.8,1197.3 L525.3,1197.0 L526.8,1197.2 L528.3,1197.8 L529.8,1197.3 L531.3,1196.4 L532.8,1195.7 L534.3,1196.0 L535.8,1196.5 L537.3,1196.8 L538.8,1196.2 L540.3,1194.3 L541.8,1192.3 L543.3,1190.4 L544.8,1189.7 L546.3,1188.6 L547.8,1187.1 L549.3,1185.8 L550.8,1185.1 L552.3,1183.9 L553.8,1182.0 L555.3,1179.3 L556.8,1177.9 L558.3,1176.3 L559.8,1176.3 L561.3,1175.7 L562.8,1176.0 L564.3,1175.7 L565.8,1175.4 L567.3,1174.0 L568.8,1172.6 L570.3,1172.2 L571.8,1173.0 L573.3,1174.0 L574.8,1174.0 L576.3,1173.7 L577.8,1173.3 L579.3,1173.4 L580.8,1172.9 L582.3,1172.6 L583.8,1172.3 L585.3,1172.3 L586.8,1172.4 L588.3,1172.1 L589.8,1172.0 L591.3,1170.6 L592.8,1169.3 L594.3,1167.8 L595.8,1167.6 L597.3,1166.3 L598.8,1164.4 L600.3,1161.8 L601.8,1160.3 L603.3,1159.3 L604.8,1159.4 L606.3,1159.5 L607.8,1157.4 L609.3,1153.5 L610.8,1148.1 L612.3,1144.6 L613.8,1141.7 L615.3,1140.6 L616.8,1138.9 L618.3,1138.1 L619.8,1137.4 L621.3,1137.5 L622.8,1137.2 L624.3,1136.2 L625.8,1133.5 L627.3,1127.4 L628.8,1121.0 L630.3,1116.0 L631.8,1114.5 L633.3,1115.0 L634.8,1114.4 L636.3,1113.6 L637.8,1112.3 L639.3,1111.6 L640.8,1111.5 L642.3,1111.9 L643.8,1112.5 L645.3,1111.5 L646.8,1108.7 L648.3,1104.2 L649.8,1100.9 L651.3,1097.4 L652.8,1094.6 L654.3,1090.6 L655.8,1088.2 L657.3,1084.8 L658.8,1081.8 L660.3,1078.2 L661.8,1075.4 L663.3,1073.4 L664.8,1072.2 L666.3,1071.6 L667.8,1071.0 L669.3,1069.8 L670.8,1067.2 L672.3,1063.5 L673.8,1060.8 L675.3,1058.3 L676.8,1056.3 L678.3,1053.2 L679.8,1050.3 L681.3,1047.1 L682.8,1043.6 L684.3,1039.4 L685.8,1036.2 L687.3,1033.5 L688.8,1031.2 L690.3,1029.6 L691.8,1028.6 L693.3,1029.4 L694.8,1028.8 L696.3,1028.0 L697.8,1024.4 L699.3,1021.4 L700.8,1016.6 L702.3,1012.0 L703.8,1006.6 L705.3,1003.4 L706.8,1003.0 L708.3,1003.5 L709.8,1003.1 L711.3,1000.5 L712.8,997.8 L714.3,995.6 L715.8,994.3 L717.3,991.9 L718.8,987.7 L720.3,983.3 L721.8,979.5 L723.3,977.5 L724.8,974.6 L726.3,972.1 L727.8,969.6 L729.3,966.9 L730.8,962.9 L732.3,957.4 L733.8,952.4 L735.3,949.3 L736.8,948.1 L738.3,946.2 L739.8,941.9 L741.3,938.0 L742.8,934.2 L744.3,930.4 L745.8,927.5 L747.3,924.2 L748.8,922.1 L750.3,918.4 L751.8,914.9 L753.3,909.3 L754.8,902.2 L756.3,894.2 L757.8,888.0 L759.3,886.8 L760.8,885.6 L762.3,884.2 L763.8,882.4 L765.3,880.8 L766.8,879.6 L768.3,875.2 L769.8,865.7 L771.3,837.4 L772.8,808.5 L774.3,794.1 L775.8,784.0 L777.3,772.9 L778.8,758.3 L780.3,742.4 L781.8,724.6 L783.3,703.0 L784.8,674.4 L786.3,638.6 L787.8,599.8 L789.3,561.5 L790.8,528.7 L792.3,499.9 L793.8,460.0 L795.3,403.8 L796.8,348.5 L798.3,304.0 L799.8,273.9 L801.3,251.1 L802.8,235.2 L804.3,223.3 L805.8,216.4 L807.3,212.5 L808.8,215.3 L810.3,226.4 L811.8,248.1 L813.3,285.3 L814.8,338.9 L816.3,411.9 L817.8,499.4 L819.3,562.3 L820.8,597.7 L822.3,627.5 L823.8,653.2 L825.3,678.4 L826.8,704.1 L828.3,738.7 L829.8,761.7 L831.3,765.0 L832.8,772.4 L834.3,785.6 L835.8,797.5 L837.3,808.2 L838.8,818.4 L840.3,822.7 L841.8,824.4 L843.3,826.5 L844.8,831.9 L846.3,838.6 L847.8,844.4 L849.3,842.3 L850.8,838.8 L852.3,834.2 L853.8,832.7 L855.3,833.1 L856.8,833.6 L858.3,833.9 L859.8,833.5 L861.3,832.2 L862.8,826.3 L864.3,819.8 L865.8,811.4 L867.3,801.6 L868.8,792.3 L870.3,785.3 L871.8,780.4 L873.3,776.5 L874.8,772.0 L876.3,766.6 L877.8,757.6 L879.3,750.3 L880.8,745.5 L882.3,741.7 L883.8,740.1 L885.3,740.8 L886.8,743.9 L888.3,750.4 L889.8,762.0 L891.3,771.4 L892.8,778.3 L894.3,784.7 L895.8,792.0 L897.3,800.9 L898.8,810.1 L900.3,819.9 L901.8,829.3 L903.3,839.0 L904.8,849.2 L906.3,858.3 L907.8,865.9 L909.3,873.5 L910.8,881.1 L912.3,887.3 L913.8,893.6 L915.3,898.0 L916.8,897.9 L918.3,897.7 L919.8,896.5 L921.3,896.0 L922.8,894.7 L924.3,893.6 L925.8,892.8 L927.3,892.0 L928.8,887.9 L930.3,883.2 L931.8,876.8 L933.3,869.3 L934.8,859.2 L936.3,847.7 L937.8,834.7 L939.3,820.6 L940.8,804.9 L942.3,787.6 L943.8,772.2 L945.3,761.4 L946.8,738.9 L948.3,706.6 L949.8,691.9 L951.3,679.8 L952.8,665.4 L954.3,652.4 L955.8,645.4 L957.3,641.2 L958.8,639.1 L960.3,638.3 L961.8,640.0 L963.3,643.7 L964.8,653.4 L966.3,667.3 L967.8,682.0 L969.3,698.0 L970.8,717.0 L972.3,735.9 L973.8,747.6 L975.3,760.8 L976.8,776.7 L978.3,791.4 L979.8,804.1 L981.3,816.2 L982.8,828.4 L984.3,841.5 L985.8,855.6 L987.3,870.1 L988.8,884.1 L990.3,897.0 L991.8,909.3 L993.3,921.2 L994.8,932.7 L996.3,943.9 L997.8,954.6 L999.3,965.3 L1000.8,976.4 L1002.3,989.5 L1003.8,1001.9 L1005.3,1007.0 L1006.8,1009.0 L1008.3,1012.8 L1009.8,1019.9 L1011.3,1031.6 L1012.8,1044.1 L1014.3,1048.6 L1015.8,1050.9 L1017.3,1051.9 L1018.8,1053.8 L1020.3,1057.2 L1021.8,1064.1 L1023.3,1069.6 L1024.8,1072.4 L1026.3,1075.7 L1027.8,1078.3 L1029.3,1080.4 L1030.8,1081.2 L1032.3,1082.7 L1033.8,1087.1 L1035.3,1094.8 L1036.8,1098.6 L1038.3,1097.4 L1039.8,1096.4 L1041.3,1096.2 L1042.8,1096.6 L1044.3,1097.0 L1045.8,1097.7 L1047.3,1098.8 L1048.8,1099.5 L1050.3,1099.8 L1051.8,1100.3 L1053.3,1101.6 L1054.8,1103.2 L1056.3,1105.0 L1057.8,1106.8 L1059.3,1110.3 L1060.8,1113.2 L1062.3,1114.6 L1063.8,1114.2 L1065.3,1113.2 L1066.8,1112.2 L1068.3,1111.0 L1069.8,1109.9 L1071.3,1109.1 L1072.8,1109.0 L1074.3,1109.7 L1075.8,1110.2 L1077.3,1111.1 L1078.8,1111.9 L1080.3,1114.2 L1081.8,1116.4 L1083.3,1119.1 L1084.8,1121.6 L1086.3,1123.5 L1087.8,1124.2 L1089.3,1123.9 L1090.8,1123.3 L1092.3,1123.4 L1093.8,1123.6 L1095.3,1123.5 L1096.8,1122.3 L1098.3,1121.4 L1099.8,1120.7 L1101.3,1120.6 L1102.8,1122.1 L1104.3,1127.0 L1105.8,1131.9 L1107.3,1134.4 L1108.8,1134.8 L1110.3,1135.3 L1111.8,1136.2 L1113.3,1137.1 L1114.8,1137.5 L1116.3,1137.2 L1117.8,1136.9 L1119.3,1136.6 L1120.8,1136.0 L1122.3,1134.4 L1123.8,1133.2 L1125.3,1132.3 L1126.8,1132.9 L1128.3,1133.9 L1129.8,1135.6 L1131.3,1137.1 L1132.8,1138.7 L1134.3,1139.7 L1135.8,1140.3 L1137.3,1140.3 L1138.8,1140.4 L1140.3,1141.0 L1141.8,1142.1 L1143.3,1142.6 L1144.8,1142.0 L1146.3,1140.9 L1147.8,1139.8 L1149.3,1140.0 L1150.8,1140.7 L1152.3,1141.3 L1153.8,1141.1 L1155.3,1140.4 L1156.8,1140.0 L1158.3,1139.4 L1159.8,1139.4 L1161.3,1138.8 L1162.8,1139.0 L1164.3,1138.5 L1165.8,1137.8 L1167.3,1135.5 L1168.8,1132.9 L1170.3,1129.3 L1171.8,1127.2 L1173.3,1125.0 L1174.8,1122.6 L1176.3,1117.4 L1177.8,1111.6 L1179.3,1106.8 L1180.8,1101.8 L1182.3,1095.8 L1183.8,1088.9 L1185.3,1082.4 L1186.8,1075.6 L1188.3,1068.4 L1189.8,1061.3 L1191.3,1053.9 L1192.8,1049.7 L1194.3,1047.5 L1195.8,1045.5 L1197.3,1040.6 L1198.8,1036.1 L1200.3,1032.8 L1201.8,1031.4 L1203.3,1030.9 L1204.8,1031.2 L1206.3,1031.5 L1207.8,1032.5 L1209.3,1037.4 L1210.8,1045.4 L1212.3,1052.3 L1213.8,1060.2 L1215.3,1068.2 L1216.8,1076.1 L1218.3,1083.0 L1219.8,1089.2 L1221.3,1095.3 L1222.8,1101.5 L1224.3,1108.0 L1225.8,1115.0 L1227.3,1119.3 L1228.8,1122.2 L1230.3,1125.0 L1231.8,1127.5 L1233.3,1130.9 L1234.8,1135.0 L1236.3,1138.1 L1237.8,1139.0 L1239.3,1139.3 L1240.8,1139.7 L1242.3,1143.1 L1243.8,1150.4 L1245.3,1155.2 L1246.8,1156.9 L1248.3,1157.6 L1249.8,1158.3 L1251.3,1158.9 L1252.8,1159.1 L1254.3,1158.0 L1255.8,1157.0 L1257.3,1157.2 L1258.8,1158.6 L1260.3,1160.1 L1261.8,1160.4 L1263.3,1160.5 L1264.8,1160.8 L1266.3,1163.8 L1267.8,1166.7 L1269.3,1169.0 L1270.8,1172.1 L1272.3,1175.2 L1273.8,1177.8 L1275.3,1179.3 L1276.8,1180.7 L1278.3,1181.6 L1279.8,1181.9 L1281.3,1182.0 L1282.8,1183.3 L1284.3,1184.9 L1285.8,1186.3 L1287.3,1187.2 L1288.8,1187.9 L1290.3,1189.1 L1291.8,1189.8 L1293.3,1191.1 L1294.8,1192.1 L1296.3,1193.6 L1297.8,1194.4 L1299.3,1194.8 L1300.8,1195.2 L1302.3,1195.9 L1303.8,1197.4 L1305.3,1198.8 L1306.8,1199.3 L1308.3,1199.5 L1309.8,1199.7 L1311.3,1199.6 L1312.8,1198.8 L1314.3,1197.3 L1315.8,1196.2 L1317.3,1195.7 L1318.8,1195.7 L1320.3,1196.3 L1321.8,1196.6 L1323.3,1197.3 L1324.8,1197.8 L1326.3,1198.8 L1327.8,1199.3 L1329.3,1199.1 L1330.8,1198.6 L1332.3,1198.0 L1333.8,1197.6 L1335.3,1197.1 L1336.8,1196.9 L1338.3,1196.3 L1339.8,1196.1 L1341.3,1195.8 L1342.8,1195.7 L1344.3,1194.7 L1345.8,1193.6 L1347.3,1192.0 L1348.8,1191.9 L1350.3,1191.9 L1351.8,1193.2 L1353.3,1194.0 L1354.8,1195.0 L1356.3,1195.6 L1357.8,1196.0 L1359.3,1195.9 L1360.8,1196.0 L1362.3,1196.2 L1363.8,1196.9 L1365.3,1196.9 L1366.8,1196.3 L1368.3,1194.8 L1369.8,1193.6 L1371.3,1192.6 L1372.8,1192.6 L1374.3,1192.7 L1375.8,1194.8 L1377.3,1197.3 L1378.8,1199.8 L1380.3,1200.1 L1381.8,1199.5 L1383.3,1199.1 L1384.8,1199.7 L1386.3,1200.8 L1387.8,1201.3 L1389.3,1201.1 L1390.8,1200.4 L1392.3,1200.3 L1393.8,1200.0 L1395.3,1200.3 L1396.8,1200.8 L1398.3,1202.2 L1399.8,1203.7 L1401.3,1205.2 L1402.8,1205.5 L1404.3,1204.8 L1405.8,1204.0 L1407.3,1204.8 L1408.8,1207.8 L1410.3,1210.7 L1411.8,1212.9 L1413.3,1213.5 L1414.8,1214.4 L1416.3,1215.1 L1417.8,1215.9 L1419.3,1215.9 L1420.8,1215.8 L1422.3,1216.1 L1423.8,1217.0 L1425.3,1218.4 L1426.8,1219.3 L1428.3,1220.5 L1429.8,1221.1 L1431.3,1221.7 L1432.8,1221.1 L1434.3,1220.1 L1435.8,1218.8 L1437.3,1219.0 L1438.8,1219.6 L1440.3,1220.5 L1441.8,1220.5 L1443.3,1221.0 L1444.8,1221.5 L1446.3,1222.0 L1447.8,1221.7 L1449.3,1221.5 L1450.8,1221.9 L1452.3,1222.3 L1453.8,1223.0 L1455.3,1223.1 L1456.8,1223.3 L1458.3,1223.8 L1459.8,1224.5 L1461.3,1226.0 L1462.8,1226.9 L1464.3,1227.5 L1465.8,1227.0 L1467.3,1226.5 L1468.8,1226.1 L1470.3,1225.8 L1471.8,1225.6 L1473.3,1224.8 L1474.8,1224.7 L1476.3,1224.4 L1477.8,1224.8 L1479.3,1224.7 L1480.8,1224.7 L1482.3,1224.2 L1483.8,1223.7 L1485.3,1223.5 L1486.8,1223.6 L1488.3,1224.1 L1489.8,1224.8 L1491.3,1225.6 L1492.8,1225.8 L1494.3,1225.8 L1495.8,1225.4 L1497.3,1226.0 L1498.8,1226.4 L1500.3,1228.0 L1501.8,1229.5 L1503.3,1231.1 L1504.8,1231.8 L1506.3,1230.9 L1507.8,1229.1 L1509.3,1227.4 L1510.8,1226.5 L1512.3,1226.1 L1513.8,1226.5 L1515.3,1226.4 L1516.8,1225.4 L1518.3,1223.9 L1519.8,1223.6 L1521.3,1224.2 L1522.8,1225.0 L1524.3,1225.2 L1525.8,1225.1 L1527.3,1224.7 L1528.8,1224.0 L1530.3,1223.2 L1531.8,1222.6 L1533.3,1222.5 L1534.8,1223.9 L1536.3,1225.4 L1537.8,1226.3 L1539.3,1225.9 L1540.8,1225.9 L1542.3,1226.6 L1543.8,1226.9 L1545.3,1226.7 L1546.8,1225.4 L1548.3,1224.8 L1549.8,1224.0 L1551.3,1223.9 L1552.8,1223.7 L1554.3,1223.9 L1555.8,1223.3 L1557.3,1222.3 L1558.8,1220.5 L1560.3,1219.4 L1561.8,1217.7 L1563.3,1216.1 L1564.8,1214.9 L1566.3,1214.3 L1567.8,1213.4 L1569.3,1212.1 L1570.8,1211.0 L1572.3,1211.5 L1573.8,1211.6 L1575.3,1212.3 L1576.8,1211.8 L1578.3,1212.2 L1579.8,1211.8 L1581.3,1211.3 L1582.8,1210.6 L1584.3,1209.7 L1585.8,1209.1 L1587.3,1208.0 L1588.8,1207.1 L1590.3,1205.9 L1591.8,1204.1 L1593.3,1202.1 L1594.8,1201.3 L1596.3,1200.9 L1597.8,1199.8 L1599.3,1198.2 L1600.8,1196.4 L1602.3,1195.5 L1603.8,1195.5 L1605.3,1196.6 L1606.8,1197.6 L1608.3,1198.2 L1609.8,1198.1 L1611.3,1198.4 L1612.8,1199.8 L1614.3,1201.5 L1615.8,1203.3 L1617.3,1204.2 L1618.8,1205.2 L1620.3,1205.7 L1621.8,1206.7 L1623.3,1207.5 L1624.8,1209.4 L1626.3,1211.0 L1627.8,1212.0 L1629.3,1211.9 L1630.8,1211.6 L1632.3,1212.2 L1633.8,1212.6 L1635.3,1213.4 L1636.8,1214.1 L1638.3,1215.4 L1639.8,1216.6 L1641.3,1217.0 L1642.8,1216.9 L1644.3,1217.0 L1645.8,1217.3 L1647.3,1217.6 L1648.8,1217.4 L1650.3,1217.1 L1651.8,1217.1 L1653.3,1216.7 L1654.8,1215.8 L1656.3,1214.5 L1657.8,1214.4 L1659.3,1214.7 L1660.8,1215.2 L1662.3,1214.8 L1663.8,1213.8 L1665.3,1214.7 L1666.8,1216.4 L1668.3,1217.9 L1669.8,1217.6 L1671.3,1216.1 L1672.8,1214.0 L1674.3,1213.3 L1675.8,1213.3 L1677.3,1213.4 L1678.8,1213.3 L1680.3,1212.7 L1681.8,1212.9 L1683.3,1213.0 L1684.8,1214.8 L1686.3,1216.1 L1687.8,1216.8 L1689.3,1215.8 L1690.8,1214.0 L1692.3,1213.6 L1693.8,1214.0 L1695.3,1214.9 L1696.8,1215.1 L1698.3,1215.8 L1699.8,1216.7 L1701.3,1217.0 L1702.8,1217.6 L1704.3,1217.3 L1705.8,1218.3 L1707.3,1218.4 L1708.8,1219.1 L1710.3,1218.9 L1711.8,1219.9 L1713.3,1221.6 L1714.8,1223.2 L1716.3,1224.4 L1717.8,1224.6 L1719.3,1225.3 L1720.8,1225.5 L1722.3,1226.1 L1723.8,1225.3 L1725.3,1225.0 L1726.8,1224.2 L1728.3,1224.5 L1729.8,1224.2 L1731.3,1224.2 L1732.8,1223.6 L1734.3,1223.4 L1735.8,1224.0 L1737.3,1225.2 L1738.8,1226.5 L1740.3,1227.7 L1741.8,1228.4 L1743.3,1229.1 L1744.8,1229.5 L1746.3,1230.5 L1747.8,1230.8 L1749.3,1230.9 L1750.8,1229.6 L1752.3,1228.5 L1753.8,1227.4 L1755.3,1227.2 L1756.8,1226.1 L1758.3,1225.1 L1759.8,1224.0 L1761.3,1223.7 L1762.8,1224.4 L1764.3,1225.2 L1765.8,1225.8 L1767.3,1225.8 L1768.8,1226.7 L1770.3,1227.4 L1771.8,1227.8 L1773.3,1227.3 L1774.8,1227.2 L1776.3,1227.6 L1777.8,1228.5 L1779.3,1229.1 L1780.8,1229.3 L1782.3,1229.5 L1783.8,1229.7 L1785.3,1230.5 L1786.8,1231.5 L1788.3,1232.9 L1789.8,1234.2 L1791.3,1234.6 L1792.8,1232.9 L1794.3,1229.7 L1795.8,1227.8 L1797.3,1227.1 L1798.8,1226.0 L1800.3,1224.9 L1801.8,1224.8 L1803.3,1226.0 L1804.8,1226.7 L1806.3,1227.1 L1807.8,1228.0 L1809.3,1230.4 L1810.8,1232.1 L1812.3,1232.0 L1813.8,1231.4 L1815.3,1230.2 L1816.8,1229.9 L1818.3,1229.4 L1819.8,1229.6 L1821.3,1229.4 L1822.8,1229.0 L1824.3,1228.6 L1825.8,1228.3 L1827.3,1229.0 L1828.8,1229.6 L1830.3,1230.3 L1831.8,1230.7 L1833.3,1231.0 L1834.8,1230.8 L1836.3,1230.4 L1837.8,1230.6 L1839.3,1231.2 L1840.8,1231.7 L1842.3,1230.2 L1843.8,1227.8 L1845.3,1225.5 L1846.8,1225.0 L1848.3,1226.0 L1849.8,1229.5 L1851.3,1231.7 L1852.8,1231.1 L1854.3,1228.6 L1855.8,1226.6 L1857.3,1225.6 L1858.8,1225.3 L1860.3,1225.9 L1861.8,1227.0 L1863.3,1228.2 L1864.8,1229.5 L1866.3,1230.1 L1867.8,1231.0 L1869.3,1231.4 L1870.8,1232.4 L1872.3,1233.0 L1873.8,1233.0 L1875.3,1232.3 L1876.8,1231.0 L1878.3,1229.9 L1879.8,1229.7 L1881.3,1229.8 L1882.8,1230.2 L1884.3,1230.2 L1885.8,1230.2 L1887.3,1229.8 L1888.8,1229.6 L1890.3,1229.6 L1891.8,1230.3 L1893.3,1230.9 L1894.8,1231.3 L1896.3,1230.4 L1897.8,1229.6 L1899.3,1229.1 L1900.8,1228.6 L1902.3,1227.4 L1903.8,1225.4 L1905.3,1223.2 L1906.8,1222.1 L1908.3,1222.0 L1909.8,1222.9 L1911.3,1223.2 L1912.8,1222.7 L1914.3,1221.8 L1915.8,1220.8 L1917.3,1219.7 L1918.8,1218.7 L1920.3,1217.9 L1921.8,1218.0 L1923.3,1218.4 L1924.8,1218.6 L1926.3,1218.2 L1927.8,1217.2 L1929.3,1216.6 L1930.8,1215.3 L1932.3,1213.7 L1933.8,1211.5 L1935.3,1210.6 L1936.8,1210.4 L1938.3,1210.5 L1939.8,1210.0 L1941.3,1209.2 L1942.8,1208.4 L1944.3,1208.4 L1945.8,1208.3 L1947.3,1208.5 L1948.8,1208.0 L1950.3,1208.5 L1951.8,1208.9 L1953.3,1209.5 L1954.8,1209.3 L1956.3,1208.7 L1957.8,1208.0 L1959.3,1207.1 L1960.8,1206.6 L1962.3,1206.5 L1963.8,1207.6 L1965.3,1211.0 L1966.8,1214.3 L1968.3,1216.0 L1969.8,1217.0 L1971.3,1217.8 L1972.8,1219.2 L1974.3,1220.3 L1975.8,1222.8 L1977.3,1225.0 L1978.8,1228.0 L1980.3,1229.0 L1981.8,1229.4 L1983.3,1229.8 L1984.8,1229.8 L1986.3,1229.6 L1987.8,1228.9 L1989.3,1228.0 L1990.8,1227.1 L1992.3,1226.7 L1993.8,1226.9 L1995.3,1227.7 L1996.8,1228.7 L1998.3,1229.8 L1999.8,1231.5 L2001.3,1232.5 L2002.8,1233.1 L2004.3,1232.3 L2005.8,1232.4 L2007.3,1232.7 L2008.8,1233.4 L2010.3,1233.2 L2011.8,1232.7 L2013.3,1230.8 L2014.8,1229.0 L2016.3,1227.3 L2017.8,1227.4 L2019.3,1228.3 L2020.8,1230.6 L2022.3,1231.4 L2023.8,1230.7 L2025.3,1228.9 L2026.8,1227.7 L2028.3,1227.8 L2029.8,1228.0 L2031.3,1228.0 L2032.8,1227.5 L2034.3,1227.7 L2035.8,1228.8 L2037.3,1230.7 L2038.8,1232.0 L2040.3,1232.5 L2041.8,1232.2 L2043.3,1232.1 L2044.8,1232.1 L2046.3,1233.3 L2047.8,1234.6"/>
<path class="cv" stroke="#1560DD" d="M259.8,1264.4 L261.3,1262.7 L262.8,1262.7 L264.3,1262.6 L265.8,1262.7 L267.3,1262.5 L268.8,1262.3 L270.3,1263.7 L271.8,1265.2 L273.3,1266.9 L274.8,1266.4 L276.3,1265.7 L277.8,1264.5 L279.3,1264.2 L280.8,1264.2 L282.3,1264.4 L283.8,1265.0 L285.3,1265.1 L286.8,1265.0 L288.3,1264.7 L289.8,1264.7 L291.3,1264.5 L292.8,1263.7 L294.3,1262.8 L295.8,1262.4 L297.3,1262.3 L298.8,1261.9 L300.3,1260.6 L301.8,1259.1 L303.3,1257.9 L304.8,1257.1 L306.3,1257.1 L307.8,1257.4 L309.3,1257.8 L310.8,1257.1 L312.3,1256.7 L313.8,1255.9 L315.3,1256.2 L316.8,1256.2 L318.3,1256.9 L319.8,1257.7 L321.3,1258.4 L322.8,1258.5 L324.3,1258.4 L325.8,1259.2 L327.3,1260.3 L328.8,1261.4 L330.3,1261.7 L331.8,1261.7 L333.3,1261.2 L334.8,1260.7 L336.3,1260.5 L337.8,1260.4 L339.3,1259.6 L340.8,1258.1 L342.3,1255.7 L343.8,1254.3 L345.3,1253.5 L346.8,1253.8 L348.3,1253.6 L349.8,1253.1 L351.3,1252.9 L352.8,1252.5 L354.3,1252.4 L355.8,1251.7 L357.3,1252.3 L358.8,1252.6 L360.3,1252.6 L361.8,1251.6 L363.3,1251.2 L364.8,1251.6 L366.3,1251.7 L367.8,1251.7 L369.3,1250.4 L370.8,1250.1 L372.3,1249.4 L373.8,1249.5 L375.3,1248.1 L376.8,1247.3 L378.3,1246.6 L379.8,1247.4 L381.3,1247.6 L382.8,1247.5 L384.3,1246.6 L385.8,1245.4 L387.3,1244.1 L388.8,1243.5 L390.3,1243.3 L391.8,1243.5 L393.3,1242.9 L394.8,1242.8 L396.3,1243.1 L397.8,1243.5 L399.3,1243.0 L400.8,1242.2 L402.3,1242.1 L403.8,1242.9 L405.3,1243.7 L406.8,1243.3 L408.3,1241.9 L409.8,1240.2 L411.3,1239.4 L412.8,1238.7 L414.3,1238.4 L415.8,1237.8 L417.3,1237.7 L418.8,1237.6 L420.3,1238.3 L421.8,1238.9 L423.3,1239.7 L424.8,1238.4 L426.3,1235.6 L427.8,1231.4 L429.3,1229.8 L430.8,1228.8 L432.3,1229.2 L433.8,1229.4 L435.3,1230.3 L436.8,1230.4 L438.3,1229.9 L439.8,1229.5 L441.3,1229.8 L442.8,1231.1 L444.3,1231.7 L445.8,1232.0 L447.3,1230.9 L448.8,1230.4 L450.3,1229.8 L451.8,1230.1 L453.3,1229.3 L454.8,1228.3 L456.3,1226.5 L457.8,1225.9 L459.3,1225.7 L460.8,1226.1 L462.3,1224.9 L463.8,1222.7 L465.3,1219.6 L466.8,1217.3 L468.3,1215.6 L469.8,1215.6 L471.3,1217.1 L472.8,1220.1 L474.3,1220.8 L475.8,1220.8 L477.3,1221.4 L478.8,1221.8 L480.3,1221.8 L481.8,1221.2 L483.3,1219.3 L484.8,1216.6 L486.3,1213.5 L487.8,1211.1 L489.3,1209.6 L490.8,1209.3 L492.3,1209.1 L493.8,1208.8 L495.3,1208.5 L496.8,1208.4 L498.3,1208.7 L499.8,1208.7 L501.3,1208.3 L502.8,1208.0 L504.3,1208.0 L505.8,1207.4 L507.3,1206.5 L508.8,1204.7 L510.3,1204.3 L511.8,1203.9 L513.3,1204.4 L514.8,1204.6 L516.3,1204.6 L517.8,1204.3 L519.3,1203.4 L520.8,1202.6 L522.3,1201.5 L523.8,1200.7 L525.3,1200.4 L526.8,1200.4 L528.3,1201.1 L529.8,1200.7 L531.3,1199.9 L532.8,1197.9 L534.3,1196.5 L535.8,1195.4 L537.3,1194.9 L538.8,1193.9 L540.3,1193.4 L541.8,1192.6 L543.3,1192.2 L544.8,1190.4 L546.3,1188.9 L547.8,1186.5 L549.3,1184.7 L550.8,1183.3 L552.3,1182.9 L553.8,1183.1 L555.3,1183.1 L556.8,1182.9 L558.3,1182.3 L559.8,1181.4 L561.3,1179.8 L562.8,1177.5 L564.3,1175.3 L565.8,1172.4 L567.3,1170.6 L568.8,1168.2 L570.3,1167.8 L571.8,1166.2 L573.3,1164.9 L574.8,1163.3 L576.3,1162.8 L577.8,1163.3 L579.3,1164.3 L580.8,1165.6 L582.3,1166.4 L583.8,1166.0 L585.3,1162.7 L586.8,1157.4 L588.3,1152.6 L589.8,1149.8 L591.3,1151.1 L592.8,1152.5 L594.3,1154.9 L595.8,1156.2 L597.3,1156.4 L598.8,1156.4 L600.3,1155.7 L601.8,1154.5 L603.3,1152.2 L604.8,1148.9 L606.3,1145.6 L607.8,1143.5 L609.3,1141.4 L610.8,1139.6 L612.3,1137.5 L613.8,1136.1 L615.3,1134.3 L616.8,1132.3 L618.3,1130.5 L619.8,1129.9 L621.3,1129.5 L622.8,1128.8 L624.3,1126.2 L625.8,1122.8 L627.3,1120.2 L628.8,1118.8 L630.3,1117.4 L631.8,1113.7 L633.3,1110.3 L634.8,1108.2 L636.3,1106.7 L637.8,1105.6 L639.3,1103.1 L640.8,1101.4 L642.3,1098.7 L643.8,1097.2 L645.3,1095.0 L646.8,1093.9 L648.3,1091.3 L649.8,1088.7 L651.3,1085.8 L652.8,1084.7 L654.3,1084.3 L655.8,1083.9 L657.3,1082.7 L658.8,1080.7 L660.3,1078.3 L661.8,1075.9 L663.3,1073.6 L664.8,1071.5 L666.3,1069.6 L667.8,1067.9 L669.3,1065.7 L670.8,1063.0 L672.3,1060.7 L673.8,1059.0 L675.3,1057.2 L676.8,1053.7 L678.3,1050.7 L679.8,1047.2 L681.3,1044.8 L682.8,1041.7 L684.3,1039.8 L685.8,1038.2 L687.3,1036.2 L688.8,1033.9 L690.3,1030.1 L691.8,1025.4 L693.3,1020.5 L694.8,1017.2 L696.3,1015.4 L697.8,1014.9 L699.3,1012.9 L700.8,1011.6 L702.3,1008.8 L703.8,1005.9 L705.3,1001.6 L706.8,997.8 L708.3,994.9 L709.8,992.2 L711.3,989.4 L712.8,986.2 L714.3,982.8 L715.8,978.6 L717.3,974.5 L718.8,970.3 L720.3,966.2 L721.8,961.4 L723.3,956.8 L724.8,951.2 L726.3,943.8 L727.8,938.0 L729.3,937.8 L730.8,938.3 L732.3,939.1 L733.8,939.1 L735.3,938.6 L736.8,936.1 L738.3,931.3 L739.8,925.9 L741.3,921.8 L742.8,918.1 L744.3,914.7 L745.8,911.8 L747.3,909.1 L748.8,905.4 L750.3,899.7 L751.8,891.9 L753.3,882.0 L754.8,869.6 L756.3,862.3 L757.8,860.3 L759.3,862.5 L760.8,863.2 L762.3,859.3 L763.8,852.8 L765.3,845.6 L766.8,840.0 L768.3,834.9 L769.8,829.4 L771.3,822.0 L772.8,814.2 L774.3,805.8 L775.8,795.2 L777.3,783.0 L778.8,769.7 L780.3,754.6 L781.8,738.9 L783.3,720.7 L784.8,698.0 L786.3,667.8 L787.8,630.7 L789.3,592.1 L790.8,554.2 L792.3,523.1 L793.8,493.3 L795.3,450.3 L796.8,392.7 L798.3,342.6 L799.8,293.7 L801.3,240.4 L802.8,207.6 L804.3,187.4 L805.8,171.1 L807.3,157.7 L808.8,166.2 L810.3,182.5 L811.8,198.7 L813.3,222.0 L814.8,304.0 L816.3,354.8 L817.8,405.1 L819.3,449.6 L820.8,475.4 L822.3,517.8 L823.8,556.2 L825.3,586.4 L826.8,615.8 L828.3,644.5 L829.8,672.4 L831.3,696.7 L832.8,710.7 L834.3,725.5 L835.8,754.2 L837.3,764.4 L838.8,770.2 L840.3,776.0 L841.8,782.7 L843.3,788.7 L844.8,796.5 L846.3,804.0 L847.8,806.4 L849.3,805.6 L850.8,804.4 L852.3,804.1 L853.8,804.8 L855.3,807.4 L856.8,808.5 L858.3,808.5 L859.8,804.3 L861.3,798.3 L862.8,789.7 L864.3,778.9 L865.8,775.2 L867.3,773.3 L868.8,771.7 L870.3,770.5 L871.8,768.7 L873.3,766.1 L874.8,761.5 L876.3,756.3 L877.8,747.8 L879.3,732.2 L880.8,727.5 L882.3,724.7 L883.8,723.2 L885.3,724.3 L886.8,726.3 L888.3,729.7 L889.8,734.1 L891.3,738.8 L892.8,745.0 L894.3,754.8 L895.8,771.9 L897.3,786.9 L898.8,796.2 L900.3,800.1 L901.8,803.5 L903.3,807.9 L904.8,818.0 L906.3,831.3 L907.8,839.1 L909.3,841.5 L910.8,844.6 L912.3,847.4 L913.8,850.3 L915.3,854.5 L916.8,856.8 L918.3,859.6 L919.8,859.7 L921.3,857.0 L922.8,852.4 L924.3,849.3 L925.8,846.4 L927.3,842.9 L928.8,838.9 L930.3,834.3 L931.8,828.8 L933.3,820.2 L934.8,809.6 L936.3,797.9 L937.8,783.4 L939.3,768.6 L940.8,757.9 L942.3,717.2 L943.8,683.2 L945.3,663.8 L946.8,644.7 L948.3,624.5 L949.8,606.7 L951.3,592.7 L952.8,580.7 L954.3,570.9 L955.8,562.8 L957.3,557.1 L958.8,552.6 L960.3,547.0 L961.8,540.8 L963.3,543.3 L964.8,547.9 L966.3,554.8 L967.8,564.0 L969.3,574.6 L970.8,587.7 L972.3,602.9 L973.8,619.4 L975.3,638.2 L976.8,657.6 L978.3,676.6 L979.8,695.6 L981.3,713.4 L982.8,729.8 L984.3,746.0 L985.8,763.0 L987.3,780.4 L988.8,797.5 L990.3,814.3 L991.8,830.6 L993.3,846.2 L994.8,861.1 L996.3,876.0 L997.8,891.5 L999.3,906.6 L1000.8,919.6 L1002.3,931.4 L1003.8,942.4 L1005.3,950.1 L1006.8,955.9 L1008.3,966.1 L1009.8,982.9 L1011.3,997.8 L1012.8,1007.6 L1014.3,1015.5 L1015.8,1021.7 L1017.3,1027.3 L1018.8,1030.0 L1020.3,1032.0 L1021.8,1034.4 L1023.3,1037.8 L1024.8,1041.9 L1026.3,1046.9 L1027.8,1052.1 L1029.3,1057.2 L1030.8,1061.6 L1032.3,1072.3 L1033.8,1073.9 L1035.3,1075.0 L1036.8,1075.2 L1038.3,1076.3 L1039.8,1078.4 L1041.3,1081.0 L1042.8,1082.5 L1044.3,1083.6 L1045.8,1085.0 L1047.3,1086.9 L1048.8,1088.6 L1050.3,1089.9 L1051.8,1090.6 L1053.3,1091.2 L1054.8,1092.0 L1056.3,1093.6 L1057.8,1095.3 L1059.3,1096.9 L1060.8,1098.4 L1062.3,1100.2 L1063.8,1102.0 L1065.3,1102.7 L1066.8,1102.4 L1068.3,1102.1 L1069.8,1101.6 L1071.3,1101.7 L1072.8,1101.6 L1074.3,1104.0 L1075.8,1106.2 L1077.3,1109.0 L1078.8,1109.8 L1080.3,1111.9 L1081.8,1113.9 L1083.3,1116.3 L1084.8,1117.3 L1086.3,1117.4 L1087.8,1116.4 L1089.3,1115.3 L1090.8,1115.1 L1092.3,1114.4 L1093.8,1113.7 L1095.3,1114.8 L1096.8,1117.3 L1098.3,1120.7 L1099.8,1121.3 L1101.3,1120.1 L1102.8,1117.9 L1104.3,1117.1 L1105.8,1118.0 L1107.3,1119.6 L1108.8,1120.8 L1110.3,1121.9 L1111.8,1123.3 L1113.3,1124.8 L1114.8,1126.5 L1116.3,1128.0 L1117.8,1129.0 L1119.3,1129.3 L1120.8,1129.0 L1122.3,1128.8 L1123.8,1128.6 L1125.3,1128.4 L1126.8,1128.0 L1128.3,1127.9 L1129.8,1128.3 L1131.3,1132.0 L1132.8,1134.0 L1134.3,1134.4 L1135.8,1133.3 L1137.3,1132.1 L1138.8,1131.9 L1140.3,1133.9 L1141.8,1135.7 L1143.3,1137.3 L1144.8,1136.9 L1146.3,1136.3 L1147.8,1134.2 L1149.3,1131.8 L1150.8,1129.6 L1152.3,1127.4 L1153.8,1126.5 L1155.3,1126.5 L1156.8,1127.2 L1158.3,1127.6 L1159.8,1127.4 L1161.3,1127.1 L1162.8,1127.2 L1164.3,1127.1 L1165.8,1126.9 L1167.3,1125.7 L1168.8,1124.6 L1170.3,1120.5 L1171.8,1113.4 L1173.3,1105.9 L1174.8,1100.1 L1176.3,1094.8 L1177.8,1089.2 L1179.3,1083.5 L1180.8,1076.6 L1182.3,1070.3 L1183.8,1065.1 L1185.3,1061.0 L1186.8,1055.2 L1188.3,1047.7 L1189.8,1040.0 L1191.3,1031.3 L1192.8,1023.7 L1194.3,1020.6 L1195.8,1020.6 L1197.3,1019.8 L1198.8,1019.5 L1200.3,1017.7 L1201.8,1015.6 L1203.3,1013.0 L1204.8,1012.3 L1206.3,1012.7 L1207.8,1013.4 L1209.3,1013.5 L1210.8,1014.8 L1212.3,1019.0 L1213.8,1027.9 L1215.3,1034.8 L1216.8,1038.5 L1218.3,1042.9 L1219.8,1045.9 L1221.3,1051.5 L1222.8,1058.3 L1224.3,1066.6 L1225.8,1075.4 L1227.3,1085.3 L1228.8,1092.2 L1230.3,1093.5 L1231.8,1094.5 L1233.3,1094.6 L1234.8,1097.3 L1236.3,1108.5 L1237.8,1118.5 L1239.3,1123.5 L1240.8,1128.3 L1242.3,1131.9 L1243.8,1133.3 L1245.3,1134.7 L1246.8,1135.2 L1248.3,1135.3 L1249.8,1135.0 L1251.3,1135.6 L1252.8,1136.9 L1254.3,1139.9 L1255.8,1143.1 L1257.3,1149.2 L1258.8,1154.7 L1260.3,1156.7 L1261.8,1156.5 L1263.3,1155.6 L1264.8,1155.4 L1266.3,1155.4 L1267.8,1156.3 L1269.3,1158.4 L1270.8,1163.3 L1272.3,1168.3 L1273.8,1170.3 L1275.3,1171.2 L1276.8,1171.3 L1278.3,1172.9 L1279.8,1174.5 L1281.3,1175.9 L1282.8,1175.7 L1284.3,1175.7 L1285.8,1176.3 L1287.3,1178.4 L1288.8,1180.4 L1290.3,1181.5 L1291.8,1182.4 L1293.3,1183.6 L1294.8,1185.5 L1296.3,1186.6 L1297.8,1186.7 L1299.3,1186.7 L1300.8,1186.7 L1302.3,1188.4 L1303.8,1190.0 L1305.3,1190.8 L1306.8,1190.8 L1308.3,1190.4 L1309.8,1191.0 L1311.3,1191.9 L1312.8,1193.3 L1314.3,1193.8 L1315.8,1193.7 L1317.3,1193.3 L1318.8,1194.0 L1320.3,1194.9 L1321.8,1195.2 L1323.3,1195.1 L1324.8,1195.6 L1326.3,1196.3 L1327.8,1195.6 L1329.3,1194.5 L1330.8,1192.1 L1332.3,1191.4 L1333.8,1190.9 L1335.3,1193.8 L1336.8,1197.9 L1338.3,1199.4 L1339.8,1199.1 L1341.3,1197.6 L1342.8,1196.9 L1344.3,1195.5 L1345.8,1194.9 L1347.3,1194.8 L1348.8,1194.9 L1350.3,1195.3 L1351.8,1195.4 L1353.3,1195.9 L1354.8,1196.2 L1356.3,1196.5 L1357.8,1196.3 L1359.3,1195.5 L1360.8,1194.3 L1362.3,1193.5 L1363.8,1193.7 L1365.3,1194.6 L1366.8,1195.8 L1368.3,1196.2 L1369.8,1196.2 L1371.3,1195.8 L1372.8,1195.3 L1374.3,1195.1 L1375.8,1195.0 L1377.3,1195.3 L1378.8,1196.2 L1380.3,1196.1 L1381.8,1195.8 L1383.3,1195.1 L1384.8,1195.4 L1386.3,1195.5 L1387.8,1196.1 L1389.3,1196.4 L1390.8,1196.5 L1392.3,1196.1 L1393.8,1194.4 L1395.3,1192.8 L1396.8,1191.8 L1398.3,1191.8 L1399.8,1192.4 L1401.3,1195.2 L1402.8,1199.0 L1404.3,1201.4 L1405.8,1202.7 L1407.3,1203.1 L1408.8,1203.7 L1410.3,1203.6 L1411.8,1203.7 L1413.3,1204.2 L1414.8,1207.1 L1416.3,1210.0 L1417.8,1211.5 L1419.3,1210.9 L1420.8,1209.8 L1422.3,1208.6 L1423.8,1208.4 L1425.3,1208.9 L1426.8,1212.7 L1428.3,1217.0 L1429.8,1218.1 L1431.3,1217.3 L1432.8,1216.5 L1434.3,1216.8 L1435.8,1217.5 L1437.3,1217.8 L1438.8,1217.4 L1440.3,1217.4 L1441.8,1218.1 L1443.3,1219.2 L1444.8,1219.7 L1446.3,1220.1 L1447.8,1220.7 L1449.3,1220.9 L1450.8,1220.3 L1452.3,1219.4 L1453.8,1219.1 L1455.3,1220.1 L1456.8,1221.4 L1458.3,1222.8 L1459.8,1223.3 L1461.3,1223.2 L1462.8,1222.9 L1464.3,1222.7 L1465.8,1223.0 L1467.3,1223.1 L1468.8,1224.1 L1470.3,1225.2 L1471.8,1226.2 L1473.3,1226.8 L1474.8,1226.5 L1476.3,1226.2 L1477.8,1225.2 L1479.3,1225.0 L1480.8,1224.8 L1482.3,1225.4 L1483.8,1225.2 L1485.3,1225.6 L1486.8,1226.0 L1488.3,1226.9 L1489.8,1227.4 L1491.3,1227.1 L1492.8,1227.0 L1494.3,1226.5 L1495.8,1226.2 L1497.3,1225.6 L1498.8,1225.4 L1500.3,1225.8 L1501.8,1225.7 L1503.3,1223.8 L1504.8,1218.4 L1506.3,1215.0 L1507.8,1216.4 L1509.3,1219.6 L1510.8,1224.6 L1512.3,1225.0 L1513.8,1222.8 L1515.3,1219.8 L1516.8,1219.0 L1518.3,1219.4 L1519.8,1220.2 L1521.3,1220.6 L1522.8,1221.1 L1524.3,1221.9 L1525.8,1223.2 L1527.3,1224.1 L1528.8,1224.2 L1530.3,1222.8 L1531.8,1221.4 L1533.3,1219.7 L1534.8,1219.3 L1536.3,1219.0 L1537.8,1219.3 L1539.3,1219.3 L1540.8,1220.1 L1542.3,1220.5 L1543.8,1220.7 L1545.3,1220.3 L1546.8,1220.3 L1548.3,1220.3 L1549.8,1220.3 L1551.3,1219.4 L1552.8,1218.2 L1554.3,1217.0 L1555.8,1215.9 L1557.3,1214.1 L1558.8,1212.5 L1560.3,1211.9 L1561.8,1212.6 L1563.3,1213.6 L1564.8,1213.4 L1566.3,1211.5 L1567.8,1208.9 L1569.3,1207.2 L1570.8,1207.1 L1572.3,1207.1 L1573.8,1207.1 L1575.3,1206.3 L1576.8,1206.6 L1578.3,1206.6 L1579.8,1206.9 L1581.3,1206.4 L1582.8,1205.5 L1584.3,1204.1 L1585.8,1202.9 L1587.3,1200.5 L1588.8,1197.4 L1590.3,1195.1 L1591.8,1193.7 L1593.3,1192.9 L1594.8,1191.2 L1596.3,1190.8 L1597.8,1190.9 L1599.3,1191.8 L1600.8,1191.9 L1602.3,1192.1 L1603.8,1192.1 L1605.3,1192.5 L1606.8,1193.5 L1608.3,1195.2 L1609.8,1195.0 L1611.3,1194.5 L1612.8,1191.8 L1614.3,1190.4 L1615.8,1189.7 L1617.3,1190.1 L1618.8,1191.6 L1620.3,1193.0 L1621.8,1194.9 L1623.3,1196.4 L1624.8,1198.5 L1626.3,1199.4 L1627.8,1200.5 L1629.3,1201.4 L1630.8,1202.4 L1632.3,1203.4 L1633.8,1204.6 L1635.3,1205.7 L1636.8,1206.1 L1638.3,1206.1 L1639.8,1206.0 L1641.3,1205.9 L1642.8,1205.5 L1644.3,1205.6 L1645.8,1207.1 L1647.3,1208.9 L1648.8,1210.5 L1650.3,1210.4 L1651.8,1210.2 L1653.3,1210.3 L1654.8,1211.6 L1656.3,1212.8 L1657.8,1214.2 L1659.3,1215.2 L1660.8,1215.9 L1662.3,1216.6 L1663.8,1217.4 L1665.3,1217.8 L1666.8,1218.3 L1668.3,1218.3 L1669.8,1219.7 L1671.3,1219.9 L1672.8,1220.5 L1674.3,1219.9 L1675.8,1219.9 L1677.3,1220.0 L1678.8,1220.4 L1680.3,1220.4 L1681.8,1220.0 L1683.3,1219.4 L1684.8,1218.6 L1686.3,1217.7 L1687.8,1216.3 L1689.3,1214.8 L1690.8,1213.7 L1692.3,1212.8 L1693.8,1212.9 L1695.3,1214.1 L1696.8,1216.6 L1698.3,1217.6 L1699.8,1218.5 L1701.3,1219.4 L1702.8,1220.9 L1704.3,1221.7 L1705.8,1221.5 L1707.3,1221.6 L1708.8,1222.0 L1710.3,1223.0 L1711.8,1223.3 L1713.3,1223.3 L1714.8,1223.6 L1716.3,1223.8 L1717.8,1223.8 L1719.3,1223.3 L1720.8,1223.1 L1722.3,1223.2 L1723.8,1223.4 L1725.3,1224.0 L1726.8,1224.3 L1728.3,1224.8 L1729.8,1224.4 L1731.3,1224.2 L1732.8,1224.4 L1734.3,1225.5 L1735.8,1226.5 L1737.3,1226.7 L1738.8,1226.5 L1740.3,1226.2 L1741.8,1227.4 L1743.3,1229.3 L1744.8,1230.9 L1746.3,1232.1 L1747.8,1231.9 L1749.3,1232.3 L1750.8,1231.0 L1752.3,1230.5 L1753.8,1229.4 L1755.3,1228.3 L1756.8,1226.2 L1758.3,1224.4 L1759.8,1224.0 L1761.3,1224.2 L1762.8,1223.8 L1764.3,1223.5 L1765.8,1223.8 L1767.3,1225.1 L1768.8,1225.8 L1770.3,1225.9 L1771.8,1225.6 L1773.3,1225.8 L1774.8,1226.3 L1776.3,1227.2 L1777.8,1228.4 L1779.3,1229.2 L1780.8,1229.1 L1782.3,1228.4 L1783.8,1227.5 L1785.3,1226.7 L1786.8,1226.5 L1788.3,1226.5 L1789.8,1227.1 L1791.3,1227.3 L1792.8,1227.4 L1794.3,1227.2 L1795.8,1227.1 L1797.3,1227.4 L1798.8,1227.4 L1800.3,1227.1 L1801.8,1226.0 L1803.3,1224.9 L1804.8,1224.1 L1806.3,1224.6 L1807.8,1225.4 L1809.3,1226.3 L1810.8,1226.3 L1812.3,1226.5 L1813.8,1226.9 L1815.3,1227.7 L1816.8,1227.9 L1818.3,1227.5 L1819.8,1227.0 L1821.3,1226.8 L1822.8,1226.9 L1824.3,1227.4 L1825.8,1227.4 L1827.3,1227.5 L1828.8,1227.0 L1830.3,1227.4 L1831.8,1228.7 L1833.3,1230.4 L1834.8,1231.5 L1836.3,1231.2 L1837.8,1230.1 L1839.3,1229.4 L1840.8,1229.3 L1842.3,1229.0 L1843.8,1228.0 L1845.3,1227.9 L1846.8,1228.9 L1848.3,1233.1 L1849.8,1235.4 L1851.3,1235.8 L1852.8,1234.6 L1854.3,1231.6 L1855.8,1228.9 L1857.3,1226.8 L1858.8,1225.7 L1860.3,1225.3 L1861.8,1226.1 L1863.3,1228.4 L1864.8,1231.0 L1866.3,1231.8 L1867.8,1231.0 L1869.3,1229.8 L1870.8,1229.5 L1872.3,1229.3 L1873.8,1229.5 L1875.3,1229.4 L1876.8,1229.8 L1878.3,1229.9 L1879.8,1230.2 L1881.3,1230.5 L1882.8,1230.9 L1884.3,1231.0 L1885.8,1230.9 L1887.3,1230.6 L1888.8,1230.2 L1890.3,1230.4 L1891.8,1230.7 L1893.3,1231.1 L1894.8,1231.0 L1896.3,1230.3 L1897.8,1229.2 L1899.3,1228.2 L1900.8,1227.5 L1902.3,1226.7 L1903.8,1225.9 L1905.3,1225.1 L1906.8,1224.1 L1908.3,1222.6 L1909.8,1221.3 L1911.3,1221.0 L1912.8,1221.1 L1914.3,1220.4 L1915.8,1219.1 L1917.3,1218.1 L1918.8,1218.0 L1920.3,1218.0 L1921.8,1218.0 L1923.3,1217.2 L1924.8,1216.6 L1926.3,1216.1 L1927.8,1216.2 L1929.3,1216.4 L1930.8,1215.9 L1932.3,1215.6 L1933.8,1214.4 L1935.3,1212.0 L1936.8,1209.1 L1938.3,1208.0 L1939.8,1208.4 L1941.3,1209.6 L1942.8,1210.6 L1944.3,1211.1 L1945.8,1210.8 L1947.3,1209.6 L1948.8,1208.1 L1950.3,1207.0 L1951.8,1207.0 L1953.3,1206.9 L1954.8,1206.9 L1956.3,1206.5 L1957.8,1207.2 L1959.3,1208.3 L1960.8,1210.2 L1962.3,1211.7 L1963.8,1214.0 L1965.3,1216.5 L1966.8,1218.2 L1968.3,1218.5 L1969.8,1218.0 L1971.3,1218.4 L1972.8,1220.0 L1974.3,1221.6 L1975.8,1222.6 L1977.3,1222.5 L1978.8,1222.3 L1980.3,1222.1 L1981.8,1222.3 L1983.3,1223.1 L1984.8,1224.7 L1986.3,1225.6 L1987.8,1226.4 L1989.3,1226.3 L1990.8,1226.8 L1992.3,1227.0 L1993.8,1226.7 L1995.3,1226.1 L1996.8,1226.3 L1998.3,1228.1 L1999.8,1232.5 L2001.3,1235.0 L2002.8,1235.7 L2004.3,1235.1 L2005.8,1234.6 L2007.3,1233.5 L2008.8,1232.3 L2010.3,1231.8 L2011.8,1231.6 L2013.3,1231.1 L2014.8,1230.2 L2016.3,1229.5 L2017.8,1229.4 L2019.3,1229.3 L2020.8,1229.9 L2022.3,1231.2 L2023.8,1232.4 L2025.3,1232.8 L2026.8,1233.1 L2028.3,1233.4 L2029.8,1234.0 L2031.3,1233.9 L2032.8,1233.6 L2034.3,1232.8 L2035.8,1232.4 L2037.3,1232.5 L2038.8,1232.8 L2040.3,1233.1 L2041.8,1233.1 L2043.3,1233.2 L2044.8,1233.1 L2046.3,1233.1 L2047.8,1233.6"/>
<path class="cv" stroke="#27A95F" d="M259.8,1262.0 L261.3,1262.1 L262.8,1262.4 L264.3,1262.1 L265.8,1261.3 L267.3,1261.2 L268.8,1261.2 L270.3,1261.7 L271.8,1261.8 L273.3,1263.0 L274.8,1263.9 L276.3,1264.9 L277.8,1264.3 L279.3,1264.1 L280.8,1263.0 L282.3,1263.0 L283.8,1261.7 L285.3,1261.3 L286.8,1260.1 L288.3,1259.7 L289.8,1259.5 L291.3,1259.8 L292.8,1260.7 L294.3,1260.8 L295.8,1260.8 L297.3,1259.8 L298.8,1259.9 L300.3,1259.5 L301.8,1259.7 L303.3,1259.2 L304.8,1259.4 L306.3,1259.7 L307.8,1260.1 L309.3,1260.9 L310.8,1261.3 L312.3,1261.4 L313.8,1260.4 L315.3,1259.2 L316.8,1258.5 L318.3,1258.7 L319.8,1259.0 L321.3,1258.7 L322.8,1257.7 L324.3,1256.8 L325.8,1256.5 L327.3,1256.8 L328.8,1257.7 L330.3,1258.7 L331.8,1259.5 L333.3,1259.5 L334.8,1259.4 L336.3,1259.3 L337.8,1259.4 L339.3,1260.0 L340.8,1260.3 L342.3,1260.8 L343.8,1260.4 L345.3,1260.4 L346.8,1259.8 L348.3,1259.7 L349.8,1259.4 L351.3,1259.1 L352.8,1258.5 L354.3,1257.7 L355.8,1257.0 L357.3,1257.0 L358.8,1256.9 L360.3,1257.1 L361.8,1257.2 L363.3,1257.7 L364.8,1258.1 L366.3,1258.0 L367.8,1257.6 L369.3,1257.4 L370.8,1256.4 L372.3,1255.4 L373.8,1253.1 L375.3,1251.2 L376.8,1249.4 L378.3,1248.8 L379.8,1249.3 L381.3,1250.9 L382.8,1251.9 L384.3,1252.4 L385.8,1251.5 L387.3,1250.9 L388.8,1249.8 L390.3,1249.2 L391.8,1248.2 L393.3,1247.8 L394.8,1247.9 L396.3,1248.2 L397.8,1249.0 L399.3,1249.5 L400.8,1250.2 L402.3,1250.3 L403.8,1250.4 L405.3,1250.2 L406.8,1249.8 L408.3,1249.1 L409.8,1248.6 L411.3,1248.6 L412.8,1248.4 L414.3,1247.1 L415.8,1244.8 L417.3,1242.8 L418.8,1241.5 L420.3,1241.8 L421.8,1242.4 L423.3,1244.0 L424.8,1244.7 L426.3,1245.1 L427.8,1244.3 L429.3,1243.1 L430.8,1241.5 L432.3,1239.7 L433.8,1237.8 L435.3,1236.2 L436.8,1236.3 L438.3,1236.7 L439.8,1238.2 L441.3,1239.3 L442.8,1241.3 L444.3,1242.8 L445.8,1243.6 L447.3,1243.4 L448.8,1243.3 L450.3,1243.1 L451.8,1242.5 L453.3,1240.7 L454.8,1238.7 L456.3,1237.0 L457.8,1235.2 L459.3,1232.9 L460.8,1230.6 L462.3,1228.7 L463.8,1227.9 L465.3,1228.0 L466.8,1229.2 L468.3,1230.7 L469.8,1231.6 L471.3,1232.5 L472.8,1232.6 L474.3,1232.5 L475.8,1231.9 L477.3,1230.9 L478.8,1228.7 L480.3,1226.8 L481.8,1225.2 L483.3,1223.4 L484.8,1221.3 L486.3,1219.1 L487.8,1218.5 L489.3,1218.7 L490.8,1220.0 L492.3,1221.4 L493.8,1222.9 L495.3,1223.7 L496.8,1224.0 L498.3,1223.4 L499.8,1222.7 L501.3,1222.0 L502.8,1221.9 L504.3,1221.0 L505.8,1219.1 L507.3,1215.9 L508.8,1213.9 L510.3,1213.5 L511.8,1213.7 L513.3,1213.0 L514.8,1211.8 L516.3,1211.0 L517.8,1211.2 L519.3,1211.0 L520.8,1210.5 L522.3,1209.6 L523.8,1208.6 L525.3,1207.4 L526.8,1206.1 L528.3,1205.4 L529.8,1205.0 L531.3,1204.6 L532.8,1203.4 L534.3,1202.2 L535.8,1201.3 L537.3,1201.7 L538.8,1201.4 L540.3,1200.6 L541.8,1198.4 L543.3,1196.5 L544.8,1194.2 L546.3,1192.5 L547.8,1190.3 L549.3,1188.2 L550.8,1186.8 L552.3,1186.8 L553.8,1187.5 L555.3,1187.6 L556.8,1186.8 L558.3,1185.9 L559.8,1185.6 L561.3,1185.6 L562.8,1185.7 L564.3,1184.4 L565.8,1183.4 L567.3,1180.9 L568.8,1178.5 L570.3,1174.7 L571.8,1170.8 L573.3,1167.5 L574.8,1165.5 L576.3,1164.7 L577.8,1162.6 L579.3,1162.0 L580.8,1162.0 L582.3,1162.8 L583.8,1163.0 L585.3,1163.6 L586.8,1164.3 L588.3,1165.5 L589.8,1166.5 L591.3,1166.6 L592.8,1164.9 L594.3,1161.1 L595.8,1156.5 L597.3,1153.4 L598.8,1151.1 L600.3,1148.7 L601.8,1146.2 L603.3,1143.1 L604.8,1140.2 L606.3,1137.5 L607.8,1136.2 L609.3,1135.4 L610.8,1134.5 L612.3,1132.2 L613.8,1130.0 L615.3,1126.7 L616.8,1124.6 L618.3,1122.5 L619.8,1122.4 L621.3,1121.9 L622.8,1121.3 L624.3,1119.7 L625.8,1118.4 L627.3,1117.1 L628.8,1115.9 L630.3,1114.3 L631.8,1112.8 L633.3,1111.7 L634.8,1111.4 L636.3,1110.5 L637.8,1109.3 L639.3,1106.4 L640.8,1104.0 L642.3,1101.0 L643.8,1099.7 L645.3,1098.1 L646.8,1096.7 L648.3,1093.8 L649.8,1090.7 L651.3,1087.9 L652.8,1085.1 L654.3,1081.8 L655.8,1079.7 L657.3,1078.1 L658.8,1078.0 L660.3,1074.7 L661.8,1070.6 L663.3,1064.9 L664.8,1061.3 L666.3,1059.1 L667.8,1056.8 L669.3,1054.2 L670.8,1050.9 L672.3,1048.1 L673.8,1045.2 L675.3,1040.8 L676.8,1037.1 L678.3,1033.2 L679.8,1031.9 L681.3,1029.5 L682.8,1027.2 L684.3,1023.5 L685.8,1020.1 L687.3,1016.8 L688.8,1013.2 L690.3,1010.2 L691.8,1008.0 L693.3,1007.3 L694.8,1007.5 L696.3,1007.8 L697.8,1008.1 L699.3,1005.4 L700.8,999.3 L702.3,990.9 L703.8,982.8 L705.3,976.3 L706.8,968.1 L708.3,959.9 L709.8,954.5 L711.3,954.8 L712.8,954.9 L714.3,955.7 L715.8,959.5 L717.3,964.8 L718.8,969.9 L720.3,969.4 L721.8,966.1 L723.3,961.9 L724.8,958.0 L726.3,952.3 L727.8,946.4 L729.3,939.1 L730.8,932.8 L732.3,924.2 L733.8,920.3 L735.3,920.5 L736.8,920.5 L738.3,920.4 L739.8,920.4 L741.3,920.4 L742.8,919.9 L744.3,919.3 L745.8,918.3 L747.3,913.4 L748.8,906.5 L750.3,898.9 L751.8,892.3 L753.3,885.0 L754.8,880.7 L756.3,880.0 L757.8,879.3 L759.3,878.4 L760.8,876.9 L762.3,874.6 L763.8,872.4 L765.3,868.7 L766.8,863.7 L768.3,856.6 L769.8,848.9 L771.3,841.0 L772.8,833.8 L774.3,826.5 L775.8,818.6 L777.3,809.7 L778.8,800.0 L780.3,789.4 L781.8,778.4 L783.3,766.8 L784.8,754.4 L786.3,741.9 L787.8,729.9 L789.3,721.0 L790.8,712.3 L792.3,702.3 L793.8,689.0 L795.3,674.8 L796.8,667.5 L798.3,668.6 L799.8,674.7 L801.3,683.8 L802.8,695.1 L804.3,709.1 L805.8,724.2 L807.3,735.1 L808.8,744.1 L810.3,752.1 L811.8,759.5 L813.3,768.2 L814.8,777.6 L816.3,787.0 L817.8,796.2 L819.3,805.2 L820.8,814.5 L822.3,823.2 L823.8,828.3 L825.3,830.8 L826.8,832.6 L828.3,834.2 L829.8,834.3 L831.3,834.2 L832.8,833.9 L834.3,834.9 L835.8,841.9 L837.3,848.1 L838.8,852.9 L840.3,855.1 L841.8,859.3 L843.3,861.5 L844.8,864.3 L846.3,866.4 L847.8,869.2 L849.3,869.9 L850.8,870.9 L852.3,871.0 L853.8,871.3 L855.3,871.2 L856.8,870.1 L858.3,867.5 L859.8,862.6 L861.3,857.9 L862.8,856.6 L864.3,854.3 L865.8,850.8 L867.3,849.4 L868.8,848.9 L870.3,848.7 L871.8,849.2 L873.3,850.7 L874.8,853.1 L876.3,856.0 L877.8,857.7 L879.3,862.7 L880.8,867.8 L882.3,874.9 L883.8,882.6 L885.3,890.4 L886.8,894.2 L888.3,894.4 L889.8,893.6 L891.3,892.9 L892.8,892.3 L894.3,891.2 L895.8,898.1 L897.3,911.3 L898.8,918.5 L900.3,925.9 L901.8,931.5 L903.3,934.1 L904.8,935.4 L906.3,935.1 L907.8,932.2 L909.3,928.3 L910.8,924.3 L912.3,921.8 L913.8,919.9 L915.3,919.9 L916.8,920.0 L918.3,921.5 L919.8,922.7 L921.3,924.7 L922.8,925.5 L924.3,924.2 L925.8,922.0 L927.3,919.3 L928.8,916.0 L930.3,911.3 L931.8,905.8 L933.3,900.5 L934.8,897.3 L936.3,893.6 L937.8,890.6 L939.3,887.1 L940.8,885.0 L942.3,882.6 L943.8,880.7 L945.3,878.1 L946.8,877.2 L948.3,875.8 L949.8,874.8 L951.3,873.9 L952.8,874.1 L954.3,876.2 L955.8,879.1 L957.3,881.1 L958.8,883.4 L960.3,887.7 L961.8,894.4 L963.3,901.4 L964.8,908.8 L966.3,916.9 L967.8,925.3 L969.3,933.3 L970.8,941.0 L972.3,947.4 L973.8,953.8 L975.3,960.1 L976.8,966.8 L978.3,973.1 L979.8,979.6 L981.3,986.7 L982.8,994.4 L984.3,1002.7 L985.8,1009.6 L987.3,1015.1 L988.8,1019.5 L990.3,1023.6 L991.8,1026.7 L993.3,1030.4 L994.8,1033.3 L996.3,1036.4 L997.8,1038.6 L999.3,1042.1 L1000.8,1047.3 L1002.3,1053.6 L1003.8,1060.2 L1005.3,1067.0 L1006.8,1073.7 L1008.3,1076.4 L1009.8,1076.4 L1011.3,1076.4 L1012.8,1077.0 L1014.3,1077.7 L1015.8,1078.6 L1017.3,1080.5 L1018.8,1083.0 L1020.3,1085.1 L1021.8,1087.2 L1023.3,1090.5 L1024.8,1093.3 L1026.3,1096.2 L1027.8,1097.8 L1029.3,1100.8 L1030.8,1103.9 L1032.3,1107.5 L1033.8,1109.8 L1035.3,1110.4 L1036.8,1110.1 L1038.3,1109.4 L1039.8,1109.1 L1041.3,1108.9 L1042.8,1109.0 L1044.3,1109.7 L1045.8,1111.1 L1047.3,1112.5 L1048.8,1113.4 L1050.3,1113.5 L1051.8,1113.7 L1053.3,1113.7 L1054.8,1113.4 L1056.3,1114.8 L1057.8,1119.4 L1059.3,1125.3 L1060.8,1128.3 L1062.3,1127.5 L1063.8,1124.0 L1065.3,1119.8 L1066.8,1117.8 L1068.3,1116.1 L1069.8,1115.1 L1071.3,1114.3 L1072.8,1114.9 L1074.3,1115.9 L1075.8,1119.7 L1077.3,1121.9 L1078.8,1125.9 L1080.3,1127.8 L1081.8,1130.1 L1083.3,1131.2 L1084.8,1132.5 L1086.3,1134.4 L1087.8,1136.2 L1089.3,1137.9 L1090.8,1139.0 L1092.3,1139.1 L1093.8,1138.6 L1095.3,1137.5 L1096.8,1136.3 L1098.3,1134.0 L1099.8,1131.4 L1101.3,1130.8 L1102.8,1131.3 L1104.3,1131.6 L1105.8,1131.6 L1107.3,1131.5 L1108.8,1133.2 L1110.3,1136.0 L1111.8,1138.8 L1113.3,1140.5 L1114.8,1141.3 L1116.3,1141.6 L1117.8,1141.5 L1119.3,1141.6 L1120.8,1141.5 L1122.3,1141.5 L1123.8,1140.4 L1125.3,1139.9 L1126.8,1140.4 L1128.3,1143.0 L1129.8,1144.5 L1131.3,1145.1 L1132.8,1145.2 L1134.3,1146.4 L1135.8,1147.7 L1137.3,1149.1 L1138.8,1149.2 L1140.3,1149.2 L1141.8,1148.7 L1143.3,1148.5 L1144.8,1147.9 L1146.3,1148.0 L1147.8,1148.4 L1149.3,1149.1 L1150.8,1148.9 L1152.3,1148.4 L1153.8,1147.3 L1155.3,1147.0 L1156.8,1146.5 L1158.3,1147.2 L1159.8,1147.1 L1161.3,1147.1 L1162.8,1145.9 L1164.3,1144.7 L1165.8,1143.4 L1167.3,1142.3 L1168.8,1140.9 L1170.3,1139.2 L1171.8,1136.3 L1173.3,1133.6 L1174.8,1130.3 L1176.3,1127.7 L1177.8,1125.0 L1179.3,1122.7 L1180.8,1121.1 L1182.3,1120.4 L1183.8,1118.7 L1185.3,1116.0 L1186.8,1112.2 L1188.3,1111.2 L1189.8,1109.6 L1191.3,1108.5 L1192.8,1107.3 L1194.3,1106.6 L1195.8,1109.5 L1197.3,1112.4 L1198.8,1117.6 L1200.3,1121.2 L1201.8,1124.7 L1203.3,1124.4 L1204.8,1123.2 L1206.3,1122.7 L1207.8,1122.3 L1209.3,1123.3 L1210.8,1124.0 L1212.3,1125.3 L1213.8,1125.7 L1215.3,1126.8 L1216.8,1133.0 L1218.3,1139.8 L1219.8,1145.6 L1221.3,1151.2 L1222.8,1153.9 L1224.3,1154.8 L1225.8,1154.9 L1227.3,1155.4 L1228.8,1155.6 L1230.3,1155.9 L1231.8,1157.1 L1233.3,1159.4 L1234.8,1162.4 L1236.3,1165.2 L1237.8,1166.4 L1239.3,1168.0 L1240.8,1171.2 L1242.3,1175.3 L1243.8,1178.8 L1245.3,1180.5 L1246.8,1181.3 L1248.3,1181.8 L1249.8,1182.7 L1251.3,1183.7 L1252.8,1183.9 L1254.3,1184.1 L1255.8,1184.4 L1257.3,1184.6 L1258.8,1182.6 L1260.3,1178.0 L1261.8,1176.4 L1263.3,1175.5 L1264.8,1177.8 L1266.3,1181.6 L1267.8,1185.1 L1269.3,1187.9 L1270.8,1189.7 L1272.3,1191.0 L1273.8,1191.8 L1275.3,1192.0 L1276.8,1191.7 L1278.3,1191.4 L1279.8,1191.6 L1281.3,1192.5 L1282.8,1193.6 L1284.3,1194.5 L1285.8,1194.6 L1287.3,1194.9 L1288.8,1195.1 L1290.3,1195.4 L1291.8,1195.5 L1293.3,1195.7 L1294.8,1196.2 L1296.3,1196.5 L1297.8,1197.5 L1299.3,1197.8 L1300.8,1198.5 L1302.3,1198.3 L1303.8,1198.6 L1305.3,1198.8 L1306.8,1199.2 L1308.3,1199.0 L1309.8,1198.8 L1311.3,1198.5 L1312.8,1199.5 L1314.3,1200.7 L1315.8,1202.6 L1317.3,1204.2 L1318.8,1205.7 L1320.3,1206.8 L1321.8,1207.0 L1323.3,1206.8 L1324.8,1206.1 L1326.3,1205.8 L1327.8,1205.5 L1329.3,1206.1 L1330.8,1206.4 L1332.3,1206.0 L1333.8,1205.3 L1335.3,1205.3 L1336.8,1206.2 L1338.3,1206.4 L1339.8,1205.7 L1341.3,1203.7 L1342.8,1202.2 L1344.3,1201.7 L1345.8,1201.8 L1347.3,1202.4 L1348.8,1203.4 L1350.3,1204.8 L1351.8,1206.1 L1353.3,1207.2 L1354.8,1207.3 L1356.3,1207.2 L1357.8,1207.1 L1359.3,1207.7 L1360.8,1208.0 L1362.3,1207.8 L1363.8,1207.3 L1365.3,1207.0 L1366.8,1207.3 L1368.3,1207.8 L1369.8,1208.5 L1371.3,1209.4 L1372.8,1209.9 L1374.3,1210.5 L1375.8,1210.1 L1377.3,1209.2 L1378.8,1207.7 L1380.3,1207.2 L1381.8,1207.1 L1383.3,1207.6 L1384.8,1208.5 L1386.3,1211.5 L1387.8,1213.7 L1389.3,1214.7 L1390.8,1214.7 L1392.3,1214.5 L1393.8,1214.7 L1395.3,1216.0 L1396.8,1218.3 L1398.3,1220.3 L1399.8,1222.0 L1401.3,1223.6 L1402.8,1225.5 L1404.3,1225.7 L1405.8,1225.0 L1407.3,1222.5 L1408.8,1221.3 L1410.3,1220.7 L1411.8,1220.6 L1413.3,1221.5 L1414.8,1222.8 L1416.3,1225.2 L1417.8,1226.6 L1419.3,1227.7 L1420.8,1228.7 L1422.3,1228.9 L1423.8,1229.0 L1425.3,1229.0 L1426.8,1229.8 L1428.3,1230.0 L1429.8,1229.8 L1431.3,1229.2 L1432.8,1229.6 L1434.3,1229.8 L1435.8,1229.2 L1437.3,1227.7 L1438.8,1226.6 L1440.3,1226.6 L1441.8,1227.9 L1443.3,1229.7 L1444.8,1230.3 L1446.3,1229.9 L1447.8,1228.7 L1449.3,1228.4 L1450.8,1228.2 L1452.3,1228.8 L1453.8,1228.9 L1455.3,1229.4 L1456.8,1229.8 L1458.3,1230.1 L1459.8,1230.7 L1461.3,1231.0 L1462.8,1231.8 L1464.3,1232.8 L1465.8,1233.3 L1467.3,1233.6 L1468.8,1233.2 L1470.3,1233.3 L1471.8,1233.1 L1473.3,1233.1 L1474.8,1232.9 L1476.3,1233.1 L1477.8,1233.0 L1479.3,1233.3 L1480.8,1233.6 L1482.3,1234.1 L1483.8,1233.4 L1485.3,1232.3 L1486.8,1231.3 L1488.3,1231.6 L1489.8,1232.0 L1491.3,1232.9 L1492.8,1232.8 L1494.3,1232.8 L1495.8,1232.2 L1497.3,1232.1 L1498.8,1232.4 L1500.3,1233.4 L1501.8,1234.3 L1503.3,1234.3 L1504.8,1234.4 L1506.3,1234.5 L1507.8,1235.0 L1509.3,1234.9 L1510.8,1234.3 L1512.3,1233.2 L1513.8,1232.3 L1515.3,1231.4 L1516.8,1230.7 L1518.3,1228.5 L1519.8,1226.9 L1521.3,1225.8 L1522.8,1226.9 L1524.3,1227.8 L1525.8,1228.3 L1527.3,1227.4 L1528.8,1226.7 L1530.3,1227.6 L1531.8,1229.5 L1533.3,1231.5 L1534.8,1232.6 L1536.3,1233.7 L1537.8,1234.6 L1539.3,1234.8 L1540.8,1233.9 L1542.3,1232.2 L1543.8,1230.2 L1545.3,1229.2 L1546.8,1228.3 L1548.3,1227.7 L1549.8,1227.7 L1551.3,1228.2 L1552.8,1231.1 L1554.3,1234.2 L1555.8,1235.0 L1557.3,1234.2 L1558.8,1232.7 L1560.3,1230.7 L1561.8,1229.1 L1563.3,1228.4 L1564.8,1227.5 L1566.3,1226.8 L1567.8,1224.9 L1569.3,1223.6 L1570.8,1221.9 L1572.3,1221.3 L1573.8,1221.1 L1575.3,1220.4 L1576.8,1219.7 L1578.3,1219.0 L1579.8,1219.3 L1581.3,1219.8 L1582.8,1220.5 L1584.3,1220.3 L1585.8,1220.0 L1587.3,1219.7 L1588.8,1219.4 L1590.3,1218.7 L1591.8,1218.3 L1593.3,1218.0 L1594.8,1217.9 L1596.3,1218.5 L1597.8,1219.4 L1599.3,1220.7 L1600.8,1221.8 L1602.3,1223.4 L1603.8,1224.1 L1605.3,1224.9 L1606.8,1224.8 L1608.3,1224.3 L1609.8,1223.6 L1611.3,1223.2 L1612.8,1222.7 L1614.3,1221.9 L1615.8,1220.1 L1617.3,1219.0 L1618.8,1218.2 L1620.3,1219.3 L1621.8,1221.5 L1623.3,1223.8 L1624.8,1225.6 L1626.3,1227.2 L1627.8,1228.6 L1629.3,1229.1 L1630.8,1229.3 L1632.3,1229.3 L1633.8,1228.5 L1635.3,1227.6 L1636.8,1226.9 L1638.3,1227.0 L1639.8,1227.3 L1641.3,1227.3 L1642.8,1226.3 L1644.3,1225.6 L1645.8,1225.4 L1647.3,1226.1 L1648.8,1226.4 L1650.3,1226.7 L1651.8,1227.4 L1653.3,1228.7 L1654.8,1229.1 L1656.3,1229.4 L1657.8,1228.5 L1659.3,1228.1 L1660.8,1227.0 L1662.3,1227.0 L1663.8,1225.4 L1665.3,1224.3 L1666.8,1224.1 L1668.3,1224.9 L1669.8,1225.7 L1671.3,1226.6 L1672.8,1226.4 L1674.3,1226.8 L1675.8,1226.4 L1677.3,1226.9 L1678.8,1227.0 L1680.3,1228.0 L1681.8,1228.5 L1683.3,1229.1 L1684.8,1229.5 L1686.3,1230.2 L1687.8,1230.7 L1689.3,1230.9 L1690.8,1230.3 L1692.3,1229.1 L1693.8,1227.8 L1695.3,1227.1 L1696.8,1227.3 L1698.3,1228.1 L1699.8,1228.3 L1701.3,1227.4 L1702.8,1225.6 L1704.3,1223.9 L1705.8,1223.5 L1707.3,1224.8 L1708.8,1227.2 L1710.3,1228.7 L1711.8,1229.6 L1713.3,1230.2 L1714.8,1231.2 L1716.3,1231.1 L1717.8,1230.2 L1719.3,1228.9 L1720.8,1227.9 L1722.3,1227.5 L1723.8,1227.8 L1725.3,1228.9 L1726.8,1230.2 L1728.3,1231.5 L1729.8,1232.5 L1731.3,1232.6 L1732.8,1232.0 L1734.3,1231.8 L1735.8,1232.3 L1737.3,1233.8 L1738.8,1234.3 L1740.3,1233.9 L1741.8,1232.3 L1743.3,1229.1 L1744.8,1226.6 L1746.3,1223.7 L1747.8,1222.4 L1749.3,1220.8 L1750.8,1220.6 L1752.3,1219.8 L1753.8,1221.0 L1755.3,1221.4 L1756.8,1224.2 L1758.3,1226.0 L1759.8,1229.7 L1761.3,1231.3 L1762.8,1231.6 L1764.3,1231.7 L1765.8,1232.3 L1767.3,1233.6 L1768.8,1234.4 L1770.3,1235.0 L1771.8,1235.0 L1773.3,1235.4 L1774.8,1235.7 L1776.3,1235.8 L1777.8,1234.8 L1779.3,1233.6 L1780.8,1232.6 L1782.3,1232.2 L1783.8,1232.4 L1785.3,1232.8 L1786.8,1233.3 L1788.3,1233.3 L1789.8,1232.8 L1791.3,1232.0 L1792.8,1230.7 L1794.3,1229.5 L1795.8,1228.4 L1797.3,1229.2 L1798.8,1229.9 L1800.3,1230.8 L1801.8,1230.0 L1803.3,1229.8 L1804.8,1230.0 L1806.3,1231.7 L1807.8,1233.8 L1809.3,1234.7 L1810.8,1235.0 L1812.3,1235.0 L1813.8,1236.4 L1815.3,1237.2 L1816.8,1238.0 L1818.3,1237.2 L1819.8,1236.9 L1821.3,1236.1 L1822.8,1236.4 L1824.3,1237.7 L1825.8,1239.2 L1827.3,1238.6 L1828.8,1237.5 L1830.3,1236.6 L1831.8,1236.4 L1833.3,1237.1 L1834.8,1237.3 L1836.3,1237.4 L1837.8,1235.6 L1839.3,1233.7 L1840.8,1232.8 L1842.3,1232.8 L1843.8,1233.5 L1845.3,1233.7 L1846.8,1233.6 L1848.3,1232.8 L1849.8,1232.6 L1851.3,1231.9 L1852.8,1231.5 L1854.3,1230.6 L1855.8,1230.6 L1857.3,1230.1 L1858.8,1229.7 L1860.3,1229.3 L1861.8,1230.0 L1863.3,1231.6 L1864.8,1234.1 L1866.3,1235.4 L1867.8,1235.9 L1869.3,1236.2 L1870.8,1236.8 L1872.3,1238.7 L1873.8,1239.1 L1875.3,1239.8 L1876.8,1239.6 L1878.3,1239.9 L1879.8,1239.4 L1881.3,1238.8 L1882.8,1237.2 L1884.3,1235.5 L1885.8,1234.2 L1887.3,1234.3 L1888.8,1235.4 L1890.3,1236.8 L1891.8,1236.7 L1893.3,1236.3 L1894.8,1236.2 L1896.3,1236.6 L1897.8,1236.5 L1899.3,1235.2 L1900.8,1233.9 L1902.3,1233.2 L1903.8,1233.6 L1905.3,1233.2 L1906.8,1232.3 L1908.3,1231.3 L1909.8,1230.4 L1911.3,1229.4 L1912.8,1228.0 L1914.3,1227.8 L1915.8,1228.5 L1917.3,1230.2 L1918.8,1231.5 L1920.3,1231.7 L1921.8,1231.4 L1923.3,1230.6 L1924.8,1230.0 L1926.3,1228.5 L1927.8,1227.7 L1929.3,1226.7 L1930.8,1226.5 L1932.3,1226.1 L1933.8,1225.9 L1935.3,1226.5 L1936.8,1226.8 L1938.3,1227.5 L1939.8,1227.1 L1941.3,1227.5 L1942.8,1227.7 L1944.3,1228.6 L1945.8,1229.0 L1947.3,1230.0 L1948.8,1230.8 L1950.3,1231.4 L1951.8,1231.6 L1953.3,1231.9 L1954.8,1232.3 L1956.3,1232.2 L1957.8,1232.3 L1959.3,1232.3 L1960.8,1233.8 L1962.3,1234.9 L1963.8,1237.4 L1965.3,1238.7 L1966.8,1240.0 L1968.3,1239.5 L1969.8,1238.4 L1971.3,1237.0 L1972.8,1235.8 L1974.3,1235.5 L1975.8,1234.9 L1977.3,1234.3 L1978.8,1233.8 L1980.3,1234.6 L1981.8,1236.5 L1983.3,1238.0 L1984.8,1238.8 L1986.3,1239.2 L1987.8,1240.3 L1989.3,1241.4 L1990.8,1242.5 L1992.3,1242.7 L1993.8,1242.2 L1995.3,1241.2 L1996.8,1240.7 L1998.3,1240.7 L1999.8,1241.0 L2001.3,1241.0 L2002.8,1241.3 L2004.3,1241.7 L2005.8,1242.6 L2007.3,1242.6 L2008.8,1242.3 L2010.3,1241.7 L2011.8,1241.7 L2013.3,1241.7 L2014.8,1241.1 L2016.3,1239.4 L2017.8,1237.3 L2019.3,1236.6 L2020.8,1236.6 L2022.3,1239.1 L2023.8,1241.4 L2025.3,1243.4 L2026.8,1243.4 L2028.3,1243.2 L2029.8,1243.3 L2031.3,1243.6 L2032.8,1243.5 L2034.3,1242.5 L2035.8,1241.9 L2037.3,1241.2 L2038.8,1241.1 L2040.3,1241.3 L2041.8,1242.2 L2043.3,1242.5 L2044.8,1242.4 L2046.3,1242.5 L2047.8,1243.6"/>
</g>
<line class="ds" x1="807.9" y1="72.5" x2="807.9" y2="1436.5"/>
<line class="ds" x1="888.0" y1="510.5" x2="888.0" y2="1436.5"/>
<line class="ds" x1="963.2" y1="510.8" x2="963.2" y2="1436.5"/>
<line class="ds" x1="1205.9" y1="973.2" x2="1205.9" y2="1436.5"/>
<path d="M259.8,1310.0h27.5 M259.8,1182.8h13.5 M259.8,1055.7h27.5 M259.8,928.5h13.5 M259.8,801.4h27.5 M259.8,674.2h13.5 M259.8,547.1h27.5 M259.8,419.9h13.5 M259.8,292.8h27.5 M259.8,165.6h13.5 M458.6,1436.5v-27.3 M657.4,1436.5v-13.4 M856.3,1436.5v-27.3 M1055.1,1436.5v-13.4 M1253.9,1436.5v-27.3 M1452.7,1436.5v-13.4 M1651.6,1436.5v-27.3 M1850.4,1436.5v-13.4" stroke="#000" stroke-width="6.0" fill="none"/>
<rect x="259.8" y="38.9" width="1789.3999999999999" height="1397.6" fill="none" stroke="#000" stroke-width="6.0"/>
<text class="tk" transform="translate(228.9,1333.0) scale(0.96,1)" text-anchor="end">0</text>
<text class="tk" transform="translate(228.9,1078.7) scale(0.96,1)" text-anchor="end">500</text>
<text class="tk" transform="translate(228.9,824.4) scale(0.96,1)" text-anchor="end">1000</text>
<text class="tk" transform="translate(228.9,570.1) scale(0.96,1)" text-anchor="end">1500</text>
<text class="tk" transform="translate(228.9,315.8) scale(0.96,1)" text-anchor="end">2000</text>
<text class="tk" transform="translate(228.9,61.5) scale(0.96,1)" text-anchor="end">2500</text>
<text class="tk" transform="translate(457.9,1517.0) scale(0.96,1)" text-anchor="middle">10</text>
<text class="tk" transform="translate(855.6,1517.0) scale(0.96,1)" text-anchor="middle">20</text>
<text class="tk" transform="translate(1253.2,1517.0) scale(0.96,1)" text-anchor="middle">30</text>
<text class="tk" transform="translate(1650.9,1517.0) scale(0.96,1)" text-anchor="middle">40</text>
<text class="tk" transform="translate(2048.5,1517.0) scale(0.96,1)" text-anchor="middle">50</text>
<text class="ax" x="1154.0" y="1617.4" text-anchor="middle">2-Theta (deg.)</text>
<text class="ay" transform="translate(75.2,737.2) rotate(-90) scale(0.9355,1)" text-anchor="middle">Intensity</text>
<line x1="1361.3" y1="123.8" x2="1528.2" y2="123.8" stroke="#4a4a4a" stroke-width="7.0" stroke-linecap="round"/>
<text class="lg" x="1546.4" y="149.1">PEEK-450G</text>
<line x1="1361.3" y1="213.2" x2="1528.2" y2="213.2" stroke="#F63A3F" stroke-width="7.0" stroke-linecap="round"/>
<text class="lg" x="1546.4" y="238.6">PEEK-XY-0°</text>
<line x1="1361.3" y1="302.7" x2="1528.2" y2="302.7" stroke="#1560DD" stroke-width="7.0" stroke-linecap="round"/>
<text class="lg" x="1546.4" y="328.0">PEEK-XY-30°</text>
<line x1="1361.3" y1="392.2" x2="1528.2" y2="392.2" stroke="#27A95F" stroke-width="7.0" stroke-linecap="round"/>
<text class="lg" x="1546.4" y="417.5">PEEK-XY-45°</text>
<text class="an" transform="translate(664.8,154.9) scale(1.0,1)" text-anchor="middle">110</text>
<text class="an" transform="translate(912.1,438.3) scale(1.05,1)" text-anchor="middle">111</text>
<text class="an" transform="translate(1102.0,558.8) scale(0.955,1)" text-anchor="middle">200</text>
<text class="an" transform="translate(1226.9,906.2) scale(0.99,1)" text-anchor="middle">211</text>
<line class="ar" x1="731.3" y1="131.3" x2="761.0" y2="152.2"/>
<polygon class="ah" points="778.2,164.3 755.0,160.8 767.1,143.6"/>
<line class="ar" x1="905.8" y1="457.1" x2="890.9" y2="500.4"/>
<polygon class="ah" points="884.1,520.3 881.0,497.0 900.9,503.8"/>
<line class="ar" x1="1022.6" y1="534.7" x2="990.4" y2="534.7"/>
<polygon class="ah" points="969.4,534.7 990.4,524.2 990.4,545.2"/>
<line class="ar" x1="1224.7" y1="915.0" x2="1210.5" y2="956.6"/>
<polygon class="ah" points="1203.7,976.5 1200.5,953.2 1220.4,960.0"/>
</svg></body></html>
